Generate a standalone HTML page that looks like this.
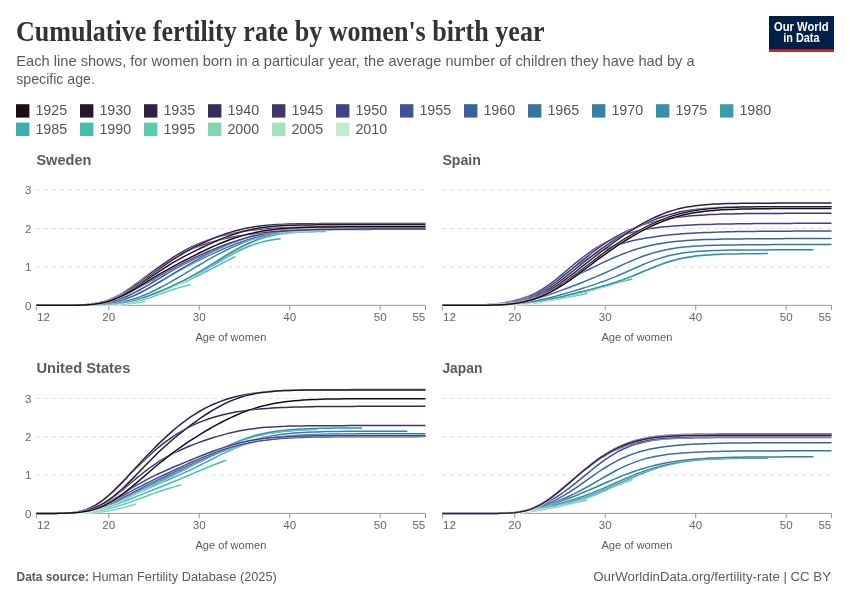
<!DOCTYPE html>
<html lang="en"><head><meta charset="utf-8"><title>Cumulative fertility rate by women's birth year</title>
<style>
html,body{margin:0;padding:0;background:#fff}
svg{display:block}
text{font-family:"Liberation Sans",sans-serif;fill:#5b5b5b}
.title{font-family:"Liberation Serif",serif;font-weight:bold;font-size:28.5px;fill:#333}
.sub{font-size:14.2px;fill:#5b5b5b}
.lg{font-size:14px;fill:#555}
.pt{font-size:15.4px;font-weight:bold;fill:#5b5b5b}
.tk{font-size:11.6px;fill:#666}
.al{font-size:11.6px;fill:#5b5b5b}
.ft{font-size:12.9px;fill:#5b5b5b}
.logo{font-size:12.3px;font-weight:bold;fill:#fff}
.gl{stroke:#ddd;stroke-width:1;stroke-dasharray:4 4}
.ax{stroke:#999;stroke-width:1}
.ln{fill:none;stroke-width:1.5;stroke-linejoin:round;stroke-linecap:butt}
.ho{fill:none;stroke:#fff;stroke-width:2.5;stroke-opacity:.55;stroke-linejoin:round}
</style></head><body>
<svg width="850" height="600" viewBox="0 0 850 600">
<rect width="850" height="600" fill="#fff"/>
<text x="16" y="40.6" class="title" textLength="528.5" lengthAdjust="spacingAndGlyphs">Cumulative fertility rate by women's birth year</text>
<text x="16.3" y="66.3" class="sub" textLength="678.3" lengthAdjust="spacingAndGlyphs">Each line shows, for women born in a particular year, the average number of children they have had by a</text>
<text x="16.3" y="83.7" class="sub" textLength="78.6" lengthAdjust="spacingAndGlyphs">specific age.</text>
<rect x="769" y="16" width="65" height="36" fill="#002147"/>
<rect x="769" y="49.3" width="65" height="2.7" fill="#ce261e"/>
<text x="801.3" y="30.5" class="logo" text-anchor="middle" textLength="54.6" lengthAdjust="spacingAndGlyphs">Our World</text>
<text x="801.4" y="42.4" class="logo" text-anchor="middle" textLength="36.3" lengthAdjust="spacingAndGlyphs">in Data</text>

<rect x="16" y="104.2" width="13.4" height="13.4" fill="#190e18"/><text x="35.4" y="115.4" class="lg" textLength="31.8" lengthAdjust="spacingAndGlyphs">1925</text>
<rect x="80" y="104.2" width="13.4" height="13.4" fill="#26172b"/><text x="99.4" y="115.4" class="lg" textLength="31.8" lengthAdjust="spacingAndGlyphs">1930</text>
<rect x="144" y="104.2" width="13.4" height="13.4" fill="#312142"/><text x="163.4" y="115.4" class="lg" textLength="31.8" lengthAdjust="spacingAndGlyphs">1935</text>
<rect x="208" y="104.2" width="13.4" height="13.4" fill="#3a2c58"/><text x="227.4" y="115.4" class="lg" textLength="31.8" lengthAdjust="spacingAndGlyphs">1940</text>
<rect x="272" y="104.2" width="13.4" height="13.4" fill="#3f3770"/><text x="291.4" y="115.4" class="lg" textLength="31.8" lengthAdjust="spacingAndGlyphs">1945</text>
<rect x="336" y="104.2" width="13.4" height="13.4" fill="#414387"/><text x="355.4" y="115.4" class="lg" textLength="31.8" lengthAdjust="spacingAndGlyphs">1950</text>
<rect x="400" y="104.2" width="13.4" height="13.4" fill="#3c5397"/><text x="419.4" y="115.4" class="lg" textLength="31.8" lengthAdjust="spacingAndGlyphs">1955</text>
<rect x="464" y="104.2" width="13.4" height="13.4" fill="#38639d"/><text x="483.4" y="115.4" class="lg" textLength="31.8" lengthAdjust="spacingAndGlyphs">1960</text>
<rect x="528" y="104.2" width="13.4" height="13.4" fill="#3573a1"/><text x="547.4" y="115.4" class="lg" textLength="31.8" lengthAdjust="spacingAndGlyphs">1965</text>
<rect x="592" y="104.2" width="13.4" height="13.4" fill="#3482a4"/><text x="611.4" y="115.4" class="lg" textLength="31.8" lengthAdjust="spacingAndGlyphs">1970</text>
<rect x="656" y="104.2" width="13.4" height="13.4" fill="#3491a8"/><text x="675.4" y="115.4" class="lg" textLength="31.8" lengthAdjust="spacingAndGlyphs">1975</text>
<rect x="720" y="104.2" width="13.4" height="13.4" fill="#35a0ab"/><text x="739.4" y="115.4" class="lg" textLength="31.8" lengthAdjust="spacingAndGlyphs">1980</text>
<rect x="16" y="122.6" width="13.4" height="13.4" fill="#3bafad"/><text x="35.4" y="133.8" class="lg" textLength="31.8" lengthAdjust="spacingAndGlyphs">1985</text>
<rect x="80" y="122.6" width="13.4" height="13.4" fill="#46bead"/><text x="99.4" y="133.8" class="lg" textLength="31.8" lengthAdjust="spacingAndGlyphs">1990</text>
<rect x="144" y="122.6" width="13.4" height="13.4" fill="#5bcdad"/><text x="163.4" y="133.8" class="lg" textLength="31.8" lengthAdjust="spacingAndGlyphs">1995</text>
<rect x="208" y="122.6" width="13.4" height="13.4" fill="#7fd7af"/><text x="227.4" y="133.8" class="lg" textLength="31.8" lengthAdjust="spacingAndGlyphs">2000</text>
<rect x="272" y="122.6" width="13.4" height="13.4" fill="#a6e1bc"/><text x="291.4" y="133.8" class="lg" textLength="31.8" lengthAdjust="spacingAndGlyphs">2005</text>
<rect x="336" y="122.6" width="13.4" height="13.4" fill="#c4eacf"/><text x="355.4" y="133.8" class="lg" textLength="31.8" lengthAdjust="spacingAndGlyphs">2010</text>
<text x="36.4" y="164.7" class="pt" textLength="55" lengthAdjust="spacingAndGlyphs">Sweden</text>
<line x1="36.4" x2="425.5" y1="266.9" y2="266.9" class="gl"/>
<line x1="36.4" x2="425.5" y1="228.6" y2="228.6" class="gl"/>
<line x1="36.4" x2="425.5" y1="190.2" y2="190.2" class="gl"/>
<text x="31.4" y="309.5" class="tk" text-anchor="end">0</text>
<text x="31.4" y="271.1" class="tk" text-anchor="end">1</text>
<text x="31.4" y="232.8" class="tk" text-anchor="end">2</text>
<text x="31.4" y="194.4" class="tk" text-anchor="end">3</text>
<line x1="36.4" x2="425.5" y1="305.3" y2="305.3" class="ax"/>
<line x1="36.4" x2="36.4" y1="305.3" y2="310.3" class="ax"/>
<text x="37.0" y="321.3" class="tk">12</text>
<line x1="108.8" x2="108.8" y1="305.3" y2="310.3" class="ax"/>
<text x="108.8" y="321.3" class="tk" text-anchor="middle">20</text>
<line x1="199.3" x2="199.3" y1="305.3" y2="310.3" class="ax"/>
<text x="199.3" y="321.3" class="tk" text-anchor="middle">30</text>
<line x1="289.7" x2="289.7" y1="305.3" y2="310.3" class="ax"/>
<text x="289.7" y="321.3" class="tk" text-anchor="middle">40</text>
<line x1="380.2" x2="380.2" y1="305.3" y2="310.3" class="ax"/>
<text x="380.2" y="321.3" class="tk" text-anchor="middle">50</text>
<line x1="425.5" x2="425.5" y1="305.3" y2="310.3" class="ax"/>
<text x="425.3" y="321.3" class="tk" text-anchor="end">55</text>
<polyline points="36.4,305.3 40.9,305.3 45.4,305.3 50.0,305.3 54.5,305.3" class="ho"/>
<polyline points="36.4,305.3 40.9,305.3 45.4,305.3 50.0,305.3 54.5,305.3" class="ln" stroke="#c4eacf"/>
<polyline points="36.4,305.3 40.9,305.3 45.4,305.3 50.0,305.3 54.5,305.3 59.0,305.3 63.5,305.3 68.1,305.3 72.6,305.3 77.1,305.3 81.6,305.3 86.2,305.3 90.7,305.2 95.2,305.2 99.7,305.1" class="ho"/>
<polyline points="36.4,305.3 40.9,305.3 45.4,305.3 50.0,305.3 54.5,305.3 59.0,305.3 63.5,305.3 68.1,305.3 72.6,305.3 77.1,305.3 81.6,305.3 86.2,305.3 90.7,305.2 95.2,305.2 99.7,305.1" class="ln" stroke="#a6e1bc"/>
<polyline points="36.4,305.3 40.9,305.3 45.4,305.3 50.0,305.3 54.5,305.3 59.0,305.3 63.5,305.3 68.1,305.3 72.6,305.3 77.1,305.3 81.6,305.3 86.2,305.3 90.7,305.3 95.2,305.2 99.7,305.2 104.3,305.1 108.8,305.0 113.3,304.8 117.8,304.6 122.4,304.4 126.9,304.0 131.4,303.6 135.9,303.0 140.5,302.3 145.0,301.5" class="ho"/>
<polyline points="36.4,305.3 40.9,305.3 45.4,305.3 50.0,305.3 54.5,305.3 59.0,305.3 63.5,305.3 68.1,305.3 72.6,305.3 77.1,305.3 81.6,305.3 86.2,305.3 90.7,305.3 95.2,305.2 99.7,305.2 104.3,305.1 108.8,305.0 113.3,304.8 117.8,304.6 122.4,304.4 126.9,304.0 131.4,303.6 135.9,303.0 140.5,302.3 145.0,301.5" class="ln" stroke="#7fd7af"/>
<polyline points="36.4,305.3 40.9,305.3 45.4,305.3 50.0,305.3 54.5,305.3 59.0,305.3 63.5,305.3 68.1,305.3 72.6,305.3 77.1,305.3 81.6,305.3 86.2,305.3 90.7,305.3 95.2,305.3 99.7,305.2 104.3,305.1 108.8,305.0 113.3,304.8 117.8,304.4 122.4,304.0 126.9,303.4 131.4,302.6 135.9,301.6 140.5,300.5 145.0,299.2 149.5,297.7 154.0,296.2 158.5,294.6 163.1,293.0 167.6,291.4 172.1,289.8 176.6,288.4 181.2,287.1 185.7,285.9 190.2,284.8" class="ho"/>
<polyline points="36.4,305.3 40.9,305.3 45.4,305.3 50.0,305.3 54.5,305.3 59.0,305.3 63.5,305.3 68.1,305.3 72.6,305.3 77.1,305.3 81.6,305.3 86.2,305.3 90.7,305.3 95.2,305.3 99.7,305.2 104.3,305.1 108.8,305.0 113.3,304.8 117.8,304.4 122.4,304.0 126.9,303.4 131.4,302.6 135.9,301.6 140.5,300.5 145.0,299.2 149.5,297.7 154.0,296.2 158.5,294.6 163.1,293.0 167.6,291.4 172.1,289.8 176.6,288.4 181.2,287.1 185.7,285.9 190.2,284.8" class="ln" stroke="#5bcdad"/>
<polyline points="36.4,305.3 40.9,305.3 45.4,305.3 50.0,305.3 54.5,305.3 59.0,305.3 63.5,305.3 68.1,305.3 72.6,305.3 77.1,305.3 81.6,305.3 86.2,305.3 90.7,305.2 95.2,305.1 99.7,305.0 104.3,304.8 108.8,304.6 113.3,304.2 117.8,303.7 122.4,303.1 126.9,302.3 131.4,301.3 135.9,300.2 140.5,298.9 145.0,297.5 149.5,295.9 154.0,294.2 158.5,292.5 163.1,290.7 167.6,288.8 172.1,286.9 176.6,285.0 181.2,283.1 185.7,281.2 190.2,279.2 194.7,277.1 199.3,275.0 203.8,272.8 208.3,270.5 212.8,268.2 217.4,265.8 221.9,263.4 226.4,261.1 230.9,258.7 235.5,256.6" class="ho"/>
<polyline points="36.4,305.3 40.9,305.3 45.4,305.3 50.0,305.3 54.5,305.3 59.0,305.3 63.5,305.3 68.1,305.3 72.6,305.3 77.1,305.3 81.6,305.3 86.2,305.3 90.7,305.2 95.2,305.1 99.7,305.0 104.3,304.8 108.8,304.6 113.3,304.2 117.8,303.7 122.4,303.1 126.9,302.3 131.4,301.3 135.9,300.2 140.5,298.9 145.0,297.5 149.5,295.9 154.0,294.2 158.5,292.5 163.1,290.7 167.6,288.8 172.1,286.9 176.6,285.0 181.2,283.1 185.7,281.2 190.2,279.2 194.7,277.1 199.3,275.0 203.8,272.8 208.3,270.5 212.8,268.2 217.4,265.8 221.9,263.4 226.4,261.1 230.9,258.7 235.5,256.6" class="ln" stroke="#46bead"/>
<polyline points="36.4,305.3 40.9,305.3 45.4,305.3 50.0,305.3 54.5,305.3 59.0,305.3 63.5,305.3 68.1,305.3 72.6,305.3 77.1,305.3 81.6,305.3 86.2,305.2 90.7,305.2 95.2,305.1 99.7,305.0 104.3,304.7 108.8,304.4 113.3,304.0 117.8,303.5 122.4,302.8 126.9,301.9 131.4,300.9 135.9,299.7 140.5,298.3 145.0,296.8 149.5,295.2 154.0,293.5 158.5,291.7 163.1,289.8 167.6,287.9 172.1,285.9 176.6,284.0 181.2,281.9 185.7,279.9 190.2,277.7 194.7,275.5 199.3,273.2 203.8,270.8 208.3,268.2 212.8,265.6 217.4,263.0 221.9,260.3 226.4,257.6 230.9,255.1 235.5,252.6 240.0,250.3 244.5,248.2 249.0,246.3 253.6,244.6 258.1,243.1 262.6,241.9 267.1,240.8 271.6,240.0 276.2,239.3 280.7,238.7" class="ho"/>
<polyline points="36.4,305.3 40.9,305.3 45.4,305.3 50.0,305.3 54.5,305.3 59.0,305.3 63.5,305.3 68.1,305.3 72.6,305.3 77.1,305.3 81.6,305.3 86.2,305.2 90.7,305.2 95.2,305.1 99.7,305.0 104.3,304.7 108.8,304.4 113.3,304.0 117.8,303.5 122.4,302.8 126.9,301.9 131.4,300.9 135.9,299.7 140.5,298.3 145.0,296.8 149.5,295.2 154.0,293.5 158.5,291.7 163.1,289.8 167.6,287.9 172.1,285.9 176.6,284.0 181.2,281.9 185.7,279.9 190.2,277.7 194.7,275.5 199.3,273.2 203.8,270.8 208.3,268.2 212.8,265.6 217.4,263.0 221.9,260.3 226.4,257.6 230.9,255.1 235.5,252.6 240.0,250.3 244.5,248.2 249.0,246.3 253.6,244.6 258.1,243.1 262.6,241.9 267.1,240.8 271.6,240.0 276.2,239.3 280.7,238.7" class="ln" stroke="#3bafad"/>
<polyline points="36.4,305.3 40.9,305.3 45.4,305.3 50.0,305.3 54.5,305.3 59.0,305.3 63.5,305.3 68.1,305.3 72.6,305.3 77.1,305.3 81.6,305.3 86.2,305.2 90.7,305.2 95.2,305.1 99.7,304.9 104.3,304.7 108.8,304.4 113.3,304.0 117.8,303.4 122.4,302.8 126.9,302.0 131.4,301.0 135.9,299.9 140.5,298.6 145.0,297.1 149.5,295.6 154.0,293.8 158.5,292.0 163.1,290.1 167.6,288.1 172.1,286.0 176.6,283.9 181.2,281.8 185.7,279.6 190.2,277.3 194.7,274.9 199.3,272.5 203.8,270.0 208.3,267.4 212.8,264.8 217.4,262.0 221.9,259.2 226.4,256.4 230.9,253.6 235.5,250.9 240.0,248.4 244.5,245.9 249.0,243.7 253.6,241.7 258.1,239.9 262.6,238.3 267.1,236.9 271.6,235.8 276.2,234.8 280.7,234.0 285.2,233.4 289.7,232.9 294.3,232.5 298.8,232.2 303.3,232.0 307.8,231.8 312.4,231.7 316.9,231.6 321.4,231.5 325.9,231.4" class="ho"/>
<polyline points="36.4,305.3 40.9,305.3 45.4,305.3 50.0,305.3 54.5,305.3 59.0,305.3 63.5,305.3 68.1,305.3 72.6,305.3 77.1,305.3 81.6,305.3 86.2,305.2 90.7,305.2 95.2,305.1 99.7,304.9 104.3,304.7 108.8,304.4 113.3,304.0 117.8,303.4 122.4,302.8 126.9,302.0 131.4,301.0 135.9,299.9 140.5,298.6 145.0,297.1 149.5,295.6 154.0,293.8 158.5,292.0 163.1,290.1 167.6,288.1 172.1,286.0 176.6,283.9 181.2,281.8 185.7,279.6 190.2,277.3 194.7,274.9 199.3,272.5 203.8,270.0 208.3,267.4 212.8,264.8 217.4,262.0 221.9,259.2 226.4,256.4 230.9,253.6 235.5,250.9 240.0,248.4 244.5,245.9 249.0,243.7 253.6,241.7 258.1,239.9 262.6,238.3 267.1,236.9 271.6,235.8 276.2,234.8 280.7,234.0 285.2,233.4 289.7,232.9 294.3,232.5 298.8,232.2 303.3,232.0 307.8,231.8 312.4,231.7 316.9,231.6 321.4,231.5 325.9,231.4" class="ln" stroke="#35a0ab"/>
<polyline points="36.4,305.3 40.9,305.3 45.4,305.3 50.0,305.3 54.5,305.3 59.0,305.3 63.5,305.3 68.1,305.3 72.6,305.3 77.1,305.3 81.6,305.2 86.2,305.2 90.7,305.1 95.2,304.9 99.7,304.8 104.3,304.5 108.8,304.2 113.3,303.7 117.8,303.2 122.4,302.5 126.9,301.7 131.4,300.8 135.9,299.7 140.5,298.4 145.0,297.0 149.5,295.5 154.0,293.8 158.5,292.0 163.1,290.1 167.6,288.2 172.1,286.1 176.6,283.9 181.2,281.6 185.7,279.3 190.2,276.9 194.7,274.4 199.3,271.8 203.8,269.2 208.3,266.4 212.8,263.7 217.4,260.8 221.9,258.0 226.4,255.2 230.9,252.5 235.5,249.9 240.0,247.4 244.5,245.1 249.0,243.0 253.6,241.1 258.1,239.3 262.6,237.8 267.1,236.5 271.6,235.4 276.2,234.4 280.7,233.6 285.2,232.9 289.7,232.3 294.3,231.8 298.8,231.4 303.3,231.1 307.8,230.9 312.4,230.6 316.9,230.5 321.4,230.3 325.9,230.2 330.5,230.1 335.0,230.0 339.5,229.9 344.0,229.9 348.6,229.8 353.1,229.8 357.6,229.7 362.1,229.7 366.7,229.7 371.2,229.7" class="ho"/>
<polyline points="36.4,305.3 40.9,305.3 45.4,305.3 50.0,305.3 54.5,305.3 59.0,305.3 63.5,305.3 68.1,305.3 72.6,305.3 77.1,305.3 81.6,305.2 86.2,305.2 90.7,305.1 95.2,304.9 99.7,304.8 104.3,304.5 108.8,304.2 113.3,303.7 117.8,303.2 122.4,302.5 126.9,301.7 131.4,300.8 135.9,299.7 140.5,298.4 145.0,297.0 149.5,295.5 154.0,293.8 158.5,292.0 163.1,290.1 167.6,288.2 172.1,286.1 176.6,283.9 181.2,281.6 185.7,279.3 190.2,276.9 194.7,274.4 199.3,271.8 203.8,269.2 208.3,266.4 212.8,263.7 217.4,260.8 221.9,258.0 226.4,255.2 230.9,252.5 235.5,249.9 240.0,247.4 244.5,245.1 249.0,243.0 253.6,241.1 258.1,239.3 262.6,237.8 267.1,236.5 271.6,235.4 276.2,234.4 280.7,233.6 285.2,232.9 289.7,232.3 294.3,231.8 298.8,231.4 303.3,231.1 307.8,230.9 312.4,230.6 316.9,230.5 321.4,230.3 325.9,230.2 330.5,230.1 335.0,230.0 339.5,229.9 344.0,229.9 348.6,229.8 353.1,229.8 357.6,229.7 362.1,229.7 366.7,229.7 371.2,229.7" class="ln" stroke="#3491a8"/>
<polyline points="36.4,305.3 40.9,305.3 45.4,305.3 50.0,305.3 54.5,305.3 59.0,305.3 63.5,305.3 68.1,305.3 72.6,305.3 77.1,305.2 81.6,305.2 86.2,305.1 90.7,305.0 95.2,304.9 99.7,304.6 104.3,304.3 108.8,303.9 113.3,303.3 117.8,302.6 122.4,301.8 126.9,300.8 131.4,299.6 135.9,298.2 140.5,296.6 145.0,294.8 149.5,292.9 154.0,290.8 158.5,288.5 163.1,286.2 167.6,283.7 172.1,281.1 176.6,278.5 181.2,275.8 185.7,273.1 190.2,270.4 194.7,267.7 199.3,265.0 203.8,262.3 208.3,259.7 212.8,257.2 217.4,254.7 221.9,252.3 226.4,250.0 230.9,247.8 235.5,245.7 240.0,243.8 244.5,242.0 249.0,240.3 253.6,238.8 258.1,237.5 262.6,236.3 267.1,235.3 271.6,234.3 276.2,233.5 280.7,232.8 285.2,232.2 289.7,231.7 294.3,231.3 298.8,230.9 303.3,230.6 307.8,230.3 312.4,230.1 316.9,229.9 321.4,229.8 325.9,229.6 330.5,229.5 335.0,229.4 339.5,229.3 344.0,229.3 348.6,229.2 353.1,229.2 357.6,229.1 362.1,229.1 366.7,229.1 371.2,229.1 375.7,229.0 380.2,229.0 384.7,229.0 389.3,229.0 393.8,229.0 398.3,229.0 402.8,229.0 407.4,229.0 411.9,229.0 416.4,229.0" class="ho"/>
<polyline points="36.4,305.3 40.9,305.3 45.4,305.3 50.0,305.3 54.5,305.3 59.0,305.3 63.5,305.3 68.1,305.3 72.6,305.3 77.1,305.2 81.6,305.2 86.2,305.1 90.7,305.0 95.2,304.9 99.7,304.6 104.3,304.3 108.8,303.9 113.3,303.3 117.8,302.6 122.4,301.8 126.9,300.8 131.4,299.6 135.9,298.2 140.5,296.6 145.0,294.8 149.5,292.9 154.0,290.8 158.5,288.5 163.1,286.2 167.6,283.7 172.1,281.1 176.6,278.5 181.2,275.8 185.7,273.1 190.2,270.4 194.7,267.7 199.3,265.0 203.8,262.3 208.3,259.7 212.8,257.2 217.4,254.7 221.9,252.3 226.4,250.0 230.9,247.8 235.5,245.7 240.0,243.8 244.5,242.0 249.0,240.3 253.6,238.8 258.1,237.5 262.6,236.3 267.1,235.3 271.6,234.3 276.2,233.5 280.7,232.8 285.2,232.2 289.7,231.7 294.3,231.3 298.8,230.9 303.3,230.6 307.8,230.3 312.4,230.1 316.9,229.9 321.4,229.8 325.9,229.6 330.5,229.5 335.0,229.4 339.5,229.3 344.0,229.3 348.6,229.2 353.1,229.2 357.6,229.1 362.1,229.1 366.7,229.1 371.2,229.1 375.7,229.0 380.2,229.0 384.7,229.0 389.3,229.0 393.8,229.0 398.3,229.0 402.8,229.0 407.4,229.0 411.9,229.0 416.4,229.0" class="ln" stroke="#3482a4"/>
<polyline points="36.4,305.3 40.9,305.3 45.4,305.3 50.0,305.3 54.5,305.3 59.0,305.3 63.5,305.3 68.1,305.3 72.6,305.3 77.1,305.3 81.6,305.2 86.2,305.1 90.7,305.0 95.2,304.8 99.7,304.4 104.3,304.0 108.8,303.3 113.3,302.5 117.8,301.5 122.4,300.2 126.9,298.7 131.4,297.0 135.9,295.0 140.5,292.8 145.0,290.5 149.5,288.0 154.0,285.4 158.5,282.8 163.1,280.1 167.6,277.4 172.1,274.8 176.6,272.2 181.2,269.6 185.7,267.2 190.2,264.8 194.7,262.4 199.3,260.1 203.8,257.9 208.3,255.7 212.8,253.6 217.4,251.5 221.9,249.5 226.4,247.6 230.9,245.7 235.5,243.9 240.0,242.2 244.5,240.6 249.0,239.1 253.6,237.8 258.1,236.5 262.6,235.4 267.1,234.4 271.6,233.5 276.2,232.8 280.7,232.1 285.2,231.5 289.7,231.1 294.3,230.7 298.8,230.4 303.3,230.1 307.8,229.9 312.4,229.7 316.9,229.6 321.4,229.5 325.9,229.4 330.5,229.3 335.0,229.3 339.5,229.2 344.0,229.2 348.6,229.2 353.1,229.2 357.6,229.1 362.1,229.1 366.7,229.1 371.2,229.1 375.7,229.1 380.2,229.1 384.7,229.1 389.3,229.1 393.8,229.1 398.3,229.1 402.8,229.1 407.4,229.1 411.9,229.1 416.4,229.1 420.9,229.1 425.5,229.1" class="ho"/>
<polyline points="36.4,305.3 40.9,305.3 45.4,305.3 50.0,305.3 54.5,305.3 59.0,305.3 63.5,305.3 68.1,305.3 72.6,305.3 77.1,305.3 81.6,305.2 86.2,305.1 90.7,305.0 95.2,304.8 99.7,304.4 104.3,304.0 108.8,303.3 113.3,302.5 117.8,301.5 122.4,300.2 126.9,298.7 131.4,297.0 135.9,295.0 140.5,292.8 145.0,290.5 149.5,288.0 154.0,285.4 158.5,282.8 163.1,280.1 167.6,277.4 172.1,274.8 176.6,272.2 181.2,269.6 185.7,267.2 190.2,264.8 194.7,262.4 199.3,260.1 203.8,257.9 208.3,255.7 212.8,253.6 217.4,251.5 221.9,249.5 226.4,247.6 230.9,245.7 235.5,243.9 240.0,242.2 244.5,240.6 249.0,239.1 253.6,237.8 258.1,236.5 262.6,235.4 267.1,234.4 271.6,233.5 276.2,232.8 280.7,232.1 285.2,231.5 289.7,231.1 294.3,230.7 298.8,230.4 303.3,230.1 307.8,229.9 312.4,229.7 316.9,229.6 321.4,229.5 325.9,229.4 330.5,229.3 335.0,229.3 339.5,229.2 344.0,229.2 348.6,229.2 353.1,229.2 357.6,229.1 362.1,229.1 366.7,229.1 371.2,229.1 375.7,229.1 380.2,229.1 384.7,229.1 389.3,229.1 393.8,229.1 398.3,229.1 402.8,229.1 407.4,229.1 411.9,229.1 416.4,229.1 420.9,229.1 425.5,229.1" class="ln" stroke="#3573a1"/>
<polyline points="36.4,305.3 40.9,305.3 45.4,305.3 50.0,305.3 54.5,305.3 59.0,305.3 63.5,305.3 68.1,305.3 72.6,305.3 77.1,305.2 81.6,305.2 86.2,305.1 90.7,304.9 95.2,304.6 99.7,304.3 104.3,303.8 108.8,303.1 113.3,302.2 117.8,301.2 122.4,299.9 126.9,298.3 131.4,296.6 135.9,294.6 140.5,292.5 145.0,290.2 149.5,287.7 154.0,285.1 158.5,282.5 163.1,279.8 167.6,277.1 172.1,274.4 176.6,271.6 181.2,269.0 185.7,266.3 190.2,263.7 194.7,261.2 199.3,258.7 203.8,256.2 208.3,253.9 212.8,251.6 217.4,249.4 221.9,247.3 226.4,245.3 230.9,243.3 235.5,241.5 240.0,239.8 244.5,238.3 249.0,236.8 253.6,235.5 258.1,234.3 262.6,233.3 267.1,232.3 271.6,231.5 276.2,230.8 280.7,230.2 285.2,229.6 289.7,229.2 294.3,228.8 298.8,228.4 303.3,228.2 307.8,228.0 312.4,227.8 316.9,227.6 321.4,227.5 325.9,227.4 330.5,227.3 335.0,227.3 339.5,227.2 344.0,227.2 348.6,227.2 353.1,227.1 357.6,227.1 362.1,227.1 366.7,227.1 371.2,227.1 375.7,227.1 380.2,227.1 384.7,227.1 389.3,227.1 393.8,227.1 398.3,227.1 402.8,227.1 407.4,227.1 411.9,227.1 416.4,227.1 420.9,227.1 425.5,227.1" class="ho"/>
<polyline points="36.4,305.3 40.9,305.3 45.4,305.3 50.0,305.3 54.5,305.3 59.0,305.3 63.5,305.3 68.1,305.3 72.6,305.3 77.1,305.2 81.6,305.2 86.2,305.1 90.7,304.9 95.2,304.6 99.7,304.3 104.3,303.8 108.8,303.1 113.3,302.2 117.8,301.2 122.4,299.9 126.9,298.3 131.4,296.6 135.9,294.6 140.5,292.5 145.0,290.2 149.5,287.7 154.0,285.1 158.5,282.5 163.1,279.8 167.6,277.1 172.1,274.4 176.6,271.6 181.2,269.0 185.7,266.3 190.2,263.7 194.7,261.2 199.3,258.7 203.8,256.2 208.3,253.9 212.8,251.6 217.4,249.4 221.9,247.3 226.4,245.3 230.9,243.3 235.5,241.5 240.0,239.8 244.5,238.3 249.0,236.8 253.6,235.5 258.1,234.3 262.6,233.3 267.1,232.3 271.6,231.5 276.2,230.8 280.7,230.2 285.2,229.6 289.7,229.2 294.3,228.8 298.8,228.4 303.3,228.2 307.8,228.0 312.4,227.8 316.9,227.6 321.4,227.5 325.9,227.4 330.5,227.3 335.0,227.3 339.5,227.2 344.0,227.2 348.6,227.2 353.1,227.1 357.6,227.1 362.1,227.1 366.7,227.1 371.2,227.1 375.7,227.1 380.2,227.1 384.7,227.1 389.3,227.1 393.8,227.1 398.3,227.1 402.8,227.1 407.4,227.1 411.9,227.1 416.4,227.1 420.9,227.1 425.5,227.1" class="ln" stroke="#38639d"/>
<polyline points="36.4,305.3 40.9,305.3 45.4,305.3 50.0,305.3 54.5,305.3 59.0,305.3 63.5,305.3 68.1,305.3 72.6,305.2 77.1,305.2 81.6,305.1 86.2,304.9 90.7,304.6 95.2,304.3 99.7,303.7 104.3,303.0 108.8,302.1 113.3,301.0 117.8,299.6 122.4,298.0 126.9,296.2 131.4,294.2 135.9,291.9 140.5,289.5 145.0,286.9 149.5,284.3 154.0,281.5 158.5,278.8 163.1,276.0 167.6,273.3 172.1,270.7 176.6,268.2 181.2,265.7 185.7,263.4 190.2,261.1 194.7,258.9 199.3,256.8 203.8,254.8 208.3,252.8 212.8,250.8 217.4,248.9 221.9,247.0 226.4,245.2 230.9,243.4 235.5,241.7 240.0,240.0 244.5,238.5 249.0,237.0 253.6,235.7 258.1,234.4 262.6,233.4 267.1,232.4 271.6,231.5 276.2,230.8 280.7,230.2 285.2,229.7 289.7,229.3 294.3,228.9 298.8,228.6 303.3,228.4 307.8,228.2 312.4,228.1 316.9,228.0 321.4,227.9 325.9,227.9 330.5,227.8 335.0,227.8 339.5,227.8 344.0,227.7 348.6,227.7 353.1,227.7 357.6,227.7 362.1,227.7 366.7,227.7 371.2,227.7 375.7,227.7 380.2,227.7 384.7,227.7 389.3,227.7 393.8,227.7 398.3,227.7 402.8,227.7 407.4,227.7 411.9,227.7 416.4,227.7 420.9,227.7 425.5,227.7" class="ho"/>
<polyline points="36.4,305.3 40.9,305.3 45.4,305.3 50.0,305.3 54.5,305.3 59.0,305.3 63.5,305.3 68.1,305.3 72.6,305.2 77.1,305.2 81.6,305.1 86.2,304.9 90.7,304.6 95.2,304.3 99.7,303.7 104.3,303.0 108.8,302.1 113.3,301.0 117.8,299.6 122.4,298.0 126.9,296.2 131.4,294.2 135.9,291.9 140.5,289.5 145.0,286.9 149.5,284.3 154.0,281.5 158.5,278.8 163.1,276.0 167.6,273.3 172.1,270.7 176.6,268.2 181.2,265.7 185.7,263.4 190.2,261.1 194.7,258.9 199.3,256.8 203.8,254.8 208.3,252.8 212.8,250.8 217.4,248.9 221.9,247.0 226.4,245.2 230.9,243.4 235.5,241.7 240.0,240.0 244.5,238.5 249.0,237.0 253.6,235.7 258.1,234.4 262.6,233.4 267.1,232.4 271.6,231.5 276.2,230.8 280.7,230.2 285.2,229.7 289.7,229.3 294.3,228.9 298.8,228.6 303.3,228.4 307.8,228.2 312.4,228.1 316.9,228.0 321.4,227.9 325.9,227.9 330.5,227.8 335.0,227.8 339.5,227.8 344.0,227.7 348.6,227.7 353.1,227.7 357.6,227.7 362.1,227.7 366.7,227.7 371.2,227.7 375.7,227.7 380.2,227.7 384.7,227.7 389.3,227.7 393.8,227.7 398.3,227.7 402.8,227.7 407.4,227.7 411.9,227.7 416.4,227.7 420.9,227.7 425.5,227.7" class="ln" stroke="#3c5397"/>
<polyline points="36.4,305.3 40.9,305.3 45.4,305.3 50.0,305.3 54.5,305.3 59.0,305.3 63.5,305.3 68.1,305.2 72.6,305.1 77.1,305.0 81.6,304.8 86.2,304.5 90.7,304.0 95.2,303.4 99.7,302.7 104.3,301.7 108.8,300.5 113.3,299.1 117.8,297.5 122.4,295.7 126.9,293.7 131.4,291.5 135.9,289.1 140.5,286.7 145.0,284.2 149.5,281.6 154.0,279.0 158.5,276.4 163.1,273.8 167.6,271.3 172.1,268.8 176.6,266.4 181.2,264.1 185.7,261.8 190.2,259.6 194.7,257.5 199.3,255.4 203.8,253.4 208.3,251.5 212.8,249.6 217.4,247.7 221.9,246.0 226.4,244.3 230.9,242.7 235.5,241.1 240.0,239.7 244.5,238.4 249.0,237.1 253.6,236.0 258.1,235.0 262.6,234.1 267.1,233.3 271.6,232.5 276.2,231.9 280.7,231.4 285.2,230.9 289.7,230.5 294.3,230.2 298.8,229.9 303.3,229.7 307.8,229.5 312.4,229.3 316.9,229.2 321.4,229.1 325.9,229.0 330.5,229.0 335.0,228.9 339.5,228.9 344.0,228.9 348.6,228.8 353.1,228.8 357.6,228.8 362.1,228.8 366.7,228.8 371.2,228.8 375.7,228.8 380.2,228.8 384.7,228.8 389.3,228.8 393.8,228.8 398.3,228.8 402.8,228.8 407.4,228.8 411.9,228.8 416.4,228.8 420.9,228.8 425.5,228.8" class="ho"/>
<polyline points="36.4,305.3 40.9,305.3 45.4,305.3 50.0,305.3 54.5,305.3 59.0,305.3 63.5,305.3 68.1,305.2 72.6,305.1 77.1,305.0 81.6,304.8 86.2,304.5 90.7,304.0 95.2,303.4 99.7,302.7 104.3,301.7 108.8,300.5 113.3,299.1 117.8,297.5 122.4,295.7 126.9,293.7 131.4,291.5 135.9,289.1 140.5,286.7 145.0,284.2 149.5,281.6 154.0,279.0 158.5,276.4 163.1,273.8 167.6,271.3 172.1,268.8 176.6,266.4 181.2,264.1 185.7,261.8 190.2,259.6 194.7,257.5 199.3,255.4 203.8,253.4 208.3,251.5 212.8,249.6 217.4,247.7 221.9,246.0 226.4,244.3 230.9,242.7 235.5,241.1 240.0,239.7 244.5,238.4 249.0,237.1 253.6,236.0 258.1,235.0 262.6,234.1 267.1,233.3 271.6,232.5 276.2,231.9 280.7,231.4 285.2,230.9 289.7,230.5 294.3,230.2 298.8,229.9 303.3,229.7 307.8,229.5 312.4,229.3 316.9,229.2 321.4,229.1 325.9,229.0 330.5,229.0 335.0,228.9 339.5,228.9 344.0,228.9 348.6,228.8 353.1,228.8 357.6,228.8 362.1,228.8 366.7,228.8 371.2,228.8 375.7,228.8 380.2,228.8 384.7,228.8 389.3,228.8 393.8,228.8 398.3,228.8 402.8,228.8 407.4,228.8 411.9,228.8 416.4,228.8 420.9,228.8 425.5,228.8" class="ln" stroke="#414387"/>
<polyline points="36.4,305.3 40.9,305.3 45.4,305.3 50.0,305.3 54.5,305.3 59.0,305.3 63.5,305.2 68.1,305.2 72.6,305.1 77.1,304.9 81.6,304.7 86.2,304.4 90.7,303.9 95.2,303.2 99.7,302.4 104.3,301.2 108.8,299.7 113.3,297.8 117.8,295.6 122.4,293.1 126.9,290.2 131.4,287.1 135.9,283.9 140.5,280.5 145.0,277.0 149.5,273.6 154.0,270.3 158.5,267.1 163.1,264.0 167.6,261.2 172.1,258.5 176.6,256.0 181.2,253.7 185.7,251.5 190.2,249.6 194.7,247.7 199.3,246.1 203.8,244.5 208.3,243.0 212.8,241.7 217.4,240.5 221.9,239.3 226.4,238.3 230.9,237.3 235.5,236.5 240.0,235.7 244.5,234.9 249.0,234.3 253.6,233.7 258.1,233.1 262.6,232.7 267.1,232.2 271.6,231.8 276.2,231.5 280.7,231.2 285.2,230.9 289.7,230.6 294.3,230.4 298.8,230.2 303.3,230.1 307.8,229.9 312.4,229.8 316.9,229.7 321.4,229.6 325.9,229.5 330.5,229.4 335.0,229.3 339.5,229.3 344.0,229.2 348.6,229.2 353.1,229.2 357.6,229.1 362.1,229.1 366.7,229.1 371.2,229.1 375.7,229.0 380.2,229.0 384.7,229.0 389.3,229.0 393.8,229.0 398.3,229.0 402.8,229.0 407.4,229.0 411.9,229.0 416.4,229.0 420.9,229.0 425.5,229.0" class="ho"/>
<polyline points="36.4,305.3 40.9,305.3 45.4,305.3 50.0,305.3 54.5,305.3 59.0,305.3 63.5,305.2 68.1,305.2 72.6,305.1 77.1,304.9 81.6,304.7 86.2,304.4 90.7,303.9 95.2,303.2 99.7,302.4 104.3,301.2 108.8,299.7 113.3,297.8 117.8,295.6 122.4,293.1 126.9,290.2 131.4,287.1 135.9,283.9 140.5,280.5 145.0,277.0 149.5,273.6 154.0,270.3 158.5,267.1 163.1,264.0 167.6,261.2 172.1,258.5 176.6,256.0 181.2,253.7 185.7,251.5 190.2,249.6 194.7,247.7 199.3,246.1 203.8,244.5 208.3,243.0 212.8,241.7 217.4,240.5 221.9,239.3 226.4,238.3 230.9,237.3 235.5,236.5 240.0,235.7 244.5,234.9 249.0,234.3 253.6,233.7 258.1,233.1 262.6,232.7 267.1,232.2 271.6,231.8 276.2,231.5 280.7,231.2 285.2,230.9 289.7,230.6 294.3,230.4 298.8,230.2 303.3,230.1 307.8,229.9 312.4,229.8 316.9,229.7 321.4,229.6 325.9,229.5 330.5,229.4 335.0,229.3 339.5,229.3 344.0,229.2 348.6,229.2 353.1,229.2 357.6,229.1 362.1,229.1 366.7,229.1 371.2,229.1 375.7,229.0 380.2,229.0 384.7,229.0 389.3,229.0 393.8,229.0 398.3,229.0 402.8,229.0 407.4,229.0 411.9,229.0 416.4,229.0 420.9,229.0 425.5,229.0" class="ln" stroke="#3f3770"/>
<polyline points="36.4,305.3 40.9,305.3 45.4,305.3 50.0,305.3 54.5,305.3 59.0,305.3 63.5,305.3 68.1,305.2 72.6,305.1 77.1,305.0 81.6,304.8 86.2,304.5 90.7,304.1 95.2,303.4 99.7,302.6 104.3,301.5 108.8,300.1 113.3,298.4 117.8,296.3 122.4,293.9 126.9,291.1 131.4,288.1 135.9,284.9 140.5,281.5 145.0,278.0 149.5,274.5 154.0,271.0 158.5,267.6 163.1,264.3 167.6,261.1 172.1,258.0 176.6,255.2 181.2,252.5 185.7,250.0 190.2,247.7 194.7,245.5 199.3,243.5 203.8,241.7 208.3,240.0 212.8,238.5 217.4,237.1 221.9,235.8 226.4,234.7 230.9,233.7 235.5,232.8 240.0,231.9 244.5,231.2 249.0,230.6 253.6,230.0 258.1,229.5 262.6,229.1 267.1,228.7 271.6,228.3 276.2,228.0 280.7,227.8 285.2,227.6 289.7,227.4 294.3,227.2 298.8,227.1 303.3,227.0 307.8,226.9 312.4,226.8 316.9,226.7 321.4,226.7 325.9,226.6 330.5,226.6 335.0,226.5 339.5,226.5 344.0,226.5 348.6,226.5 353.1,226.5 357.6,226.4 362.1,226.4 366.7,226.4 371.2,226.4 375.7,226.4 380.2,226.4 384.7,226.4 389.3,226.4 393.8,226.4 398.3,226.4 402.8,226.4 407.4,226.4 411.9,226.4 416.4,226.4 420.9,226.4 425.5,226.4" class="ho"/>
<polyline points="36.4,305.3 40.9,305.3 45.4,305.3 50.0,305.3 54.5,305.3 59.0,305.3 63.5,305.3 68.1,305.2 72.6,305.1 77.1,305.0 81.6,304.8 86.2,304.5 90.7,304.1 95.2,303.4 99.7,302.6 104.3,301.5 108.8,300.1 113.3,298.4 117.8,296.3 122.4,293.9 126.9,291.1 131.4,288.1 135.9,284.9 140.5,281.5 145.0,278.0 149.5,274.5 154.0,271.0 158.5,267.6 163.1,264.3 167.6,261.1 172.1,258.0 176.6,255.2 181.2,252.5 185.7,250.0 190.2,247.7 194.7,245.5 199.3,243.5 203.8,241.7 208.3,240.0 212.8,238.5 217.4,237.1 221.9,235.8 226.4,234.7 230.9,233.7 235.5,232.8 240.0,231.9 244.5,231.2 249.0,230.6 253.6,230.0 258.1,229.5 262.6,229.1 267.1,228.7 271.6,228.3 276.2,228.0 280.7,227.8 285.2,227.6 289.7,227.4 294.3,227.2 298.8,227.1 303.3,227.0 307.8,226.9 312.4,226.8 316.9,226.7 321.4,226.7 325.9,226.6 330.5,226.6 335.0,226.5 339.5,226.5 344.0,226.5 348.6,226.5 353.1,226.5 357.6,226.4 362.1,226.4 366.7,226.4 371.2,226.4 375.7,226.4 380.2,226.4 384.7,226.4 389.3,226.4 393.8,226.4 398.3,226.4 402.8,226.4 407.4,226.4 411.9,226.4 416.4,226.4 420.9,226.4 425.5,226.4" class="ln" stroke="#3a2c58"/>
<polyline points="36.4,305.3 40.9,305.3 45.4,305.3 50.0,305.3 54.5,305.3 59.0,305.3 63.5,305.3 68.1,305.2 72.6,305.2 77.1,305.1 81.6,304.9 86.2,304.6 90.7,304.2 95.2,303.6 99.7,302.8 104.3,301.8 108.8,300.4 113.3,298.8 117.8,296.8 122.4,294.6 126.9,292.0 131.4,289.2 135.9,286.2 140.5,283.0 145.0,279.8 149.5,276.4 154.0,273.0 158.5,269.7 163.1,266.4 167.6,263.2 172.1,260.2 176.6,257.3 181.2,254.5 185.7,251.8 190.2,249.3 194.7,246.9 199.3,244.7 203.8,242.5 208.3,240.5 212.8,238.6 217.4,236.8 221.9,235.1 226.4,233.5 230.9,232.1 235.5,230.8 240.0,229.7 244.5,228.6 249.0,227.7 253.6,227.0 258.1,226.3 262.6,225.8 267.1,225.3 271.6,224.9 276.2,224.6 280.7,224.4 285.2,224.2 289.7,224.0 294.3,223.9 298.8,223.8 303.3,223.8 307.8,223.7 312.4,223.7 316.9,223.7 321.4,223.6 325.9,223.6 330.5,223.6 335.0,223.6 339.5,223.6 344.0,223.6 348.6,223.6 353.1,223.6 357.6,223.6 362.1,223.6 366.7,223.6 371.2,223.6 375.7,223.6 380.2,223.6 384.7,223.6 389.3,223.6 393.8,223.6 398.3,223.6 402.8,223.6 407.4,223.6 411.9,223.6 416.4,223.6 420.9,223.6 425.5,223.6" class="ho"/>
<polyline points="36.4,305.3 40.9,305.3 45.4,305.3 50.0,305.3 54.5,305.3 59.0,305.3 63.5,305.3 68.1,305.2 72.6,305.2 77.1,305.1 81.6,304.9 86.2,304.6 90.7,304.2 95.2,303.6 99.7,302.8 104.3,301.8 108.8,300.4 113.3,298.8 117.8,296.8 122.4,294.6 126.9,292.0 131.4,289.2 135.9,286.2 140.5,283.0 145.0,279.8 149.5,276.4 154.0,273.0 158.5,269.7 163.1,266.4 167.6,263.2 172.1,260.2 176.6,257.3 181.2,254.5 185.7,251.8 190.2,249.3 194.7,246.9 199.3,244.7 203.8,242.5 208.3,240.5 212.8,238.6 217.4,236.8 221.9,235.1 226.4,233.5 230.9,232.1 235.5,230.8 240.0,229.7 244.5,228.6 249.0,227.7 253.6,227.0 258.1,226.3 262.6,225.8 267.1,225.3 271.6,224.9 276.2,224.6 280.7,224.4 285.2,224.2 289.7,224.0 294.3,223.9 298.8,223.8 303.3,223.8 307.8,223.7 312.4,223.7 316.9,223.7 321.4,223.6 325.9,223.6 330.5,223.6 335.0,223.6 339.5,223.6 344.0,223.6 348.6,223.6 353.1,223.6 357.6,223.6 362.1,223.6 366.7,223.6 371.2,223.6 375.7,223.6 380.2,223.6 384.7,223.6 389.3,223.6 393.8,223.6 398.3,223.6 402.8,223.6 407.4,223.6 411.9,223.6 416.4,223.6 420.9,223.6 425.5,223.6" class="ln" stroke="#312142"/>
<polyline points="36.4,305.3 40.9,305.3 45.4,305.3 50.0,305.3 54.5,305.3 59.0,305.3 63.5,305.3 68.1,305.3 72.6,305.2 77.1,305.1 81.6,305.0 86.2,304.8 90.7,304.4 95.2,303.9 99.7,303.1 104.3,302.1 108.8,300.8 113.3,299.3 117.8,297.4 122.4,295.2 126.9,292.7 131.4,290.1 135.9,287.2 140.5,284.2 145.0,281.1 149.5,277.9 154.0,274.8 158.5,271.8 163.1,268.8 167.6,266.0 172.1,263.2 176.6,260.6 181.2,258.1 185.7,255.7 190.2,253.3 194.7,251.1 199.3,248.8 203.8,246.7 208.3,244.6 212.8,242.5 217.4,240.5 221.9,238.6 226.4,236.9 230.9,235.2 235.5,233.7 240.0,232.3 244.5,231.0 249.0,229.9 253.6,229.0 258.1,228.2 262.6,227.5 267.1,226.9 271.6,226.4 276.2,226.0 280.7,225.7 285.2,225.5 289.7,225.3 294.3,225.2 298.8,225.0 303.3,225.0 307.8,224.9 312.4,224.9 316.9,224.8 321.4,224.8 325.9,224.8 330.5,224.8 335.0,224.8 339.5,224.8 344.0,224.8 348.6,224.7 353.1,224.7 357.6,224.7 362.1,224.7 366.7,224.7 371.2,224.7 375.7,224.7 380.2,224.7 384.7,224.7 389.3,224.7 393.8,224.7 398.3,224.7 402.8,224.7 407.4,224.7 411.9,224.7 416.4,224.7 420.9,224.7 425.5,224.7" class="ho"/>
<polyline points="36.4,305.3 40.9,305.3 45.4,305.3 50.0,305.3 54.5,305.3 59.0,305.3 63.5,305.3 68.1,305.3 72.6,305.2 77.1,305.1 81.6,305.0 86.2,304.8 90.7,304.4 95.2,303.9 99.7,303.1 104.3,302.1 108.8,300.8 113.3,299.3 117.8,297.4 122.4,295.2 126.9,292.7 131.4,290.1 135.9,287.2 140.5,284.2 145.0,281.1 149.5,277.9 154.0,274.8 158.5,271.8 163.1,268.8 167.6,266.0 172.1,263.2 176.6,260.6 181.2,258.1 185.7,255.7 190.2,253.3 194.7,251.1 199.3,248.8 203.8,246.7 208.3,244.6 212.8,242.5 217.4,240.5 221.9,238.6 226.4,236.9 230.9,235.2 235.5,233.7 240.0,232.3 244.5,231.0 249.0,229.9 253.6,229.0 258.1,228.2 262.6,227.5 267.1,226.9 271.6,226.4 276.2,226.0 280.7,225.7 285.2,225.5 289.7,225.3 294.3,225.2 298.8,225.0 303.3,225.0 307.8,224.9 312.4,224.9 316.9,224.8 321.4,224.8 325.9,224.8 330.5,224.8 335.0,224.8 339.5,224.8 344.0,224.8 348.6,224.7 353.1,224.7 357.6,224.7 362.1,224.7 366.7,224.7 371.2,224.7 375.7,224.7 380.2,224.7 384.7,224.7 389.3,224.7 393.8,224.7 398.3,224.7 402.8,224.7 407.4,224.7 411.9,224.7 416.4,224.7 420.9,224.7 425.5,224.7" class="ln" stroke="#26172b"/>
<polyline points="36.4,305.3 40.9,305.3 45.4,305.3 50.0,305.3 54.5,305.3 59.0,305.3 63.5,305.3 68.1,305.3 72.6,305.3 77.1,305.2 81.6,305.1 86.2,304.9 90.7,304.6 95.2,304.1 99.7,303.4 104.3,302.5 108.8,301.3 113.3,299.7 117.8,297.9 122.4,295.8 126.9,293.5 131.4,291.0 135.9,288.4 140.5,285.6 145.0,282.9 149.5,280.1 154.0,277.4 158.5,274.7 163.1,272.1 167.6,269.6 172.1,267.1 176.6,264.6 181.2,262.2 185.7,259.9 190.2,257.6 194.7,255.3 199.3,253.0 203.8,250.8 208.3,248.7 212.8,246.6 217.4,244.6 221.9,242.7 226.4,241.0 230.9,239.3 235.5,237.8 240.0,236.3 244.5,235.1 249.0,233.9 253.6,232.9 258.1,231.9 262.6,231.1 267.1,230.4 271.6,229.8 276.2,229.3 280.7,228.8 285.2,228.5 289.7,228.1 294.3,227.9 298.8,227.7 303.3,227.5 307.8,227.3 312.4,227.2 316.9,227.1 321.4,227.0 325.9,227.0 330.5,226.9 335.0,226.9 339.5,226.8 344.0,226.8 348.6,226.8 353.1,226.8 357.6,226.8 362.1,226.8 366.7,226.8 371.2,226.8 375.7,226.8 380.2,226.8 384.7,226.7 389.3,226.7 393.8,226.7 398.3,226.7 402.8,226.7 407.4,226.7 411.9,226.7 416.4,226.7 420.9,226.7 425.5,226.7" class="ho"/>
<polyline points="36.4,305.3 40.9,305.3 45.4,305.3 50.0,305.3 54.5,305.3 59.0,305.3 63.5,305.3 68.1,305.3 72.6,305.3 77.1,305.2 81.6,305.1 86.2,304.9 90.7,304.6 95.2,304.1 99.7,303.4 104.3,302.5 108.8,301.3 113.3,299.7 117.8,297.9 122.4,295.8 126.9,293.5 131.4,291.0 135.9,288.4 140.5,285.6 145.0,282.9 149.5,280.1 154.0,277.4 158.5,274.7 163.1,272.1 167.6,269.6 172.1,267.1 176.6,264.6 181.2,262.2 185.7,259.9 190.2,257.6 194.7,255.3 199.3,253.0 203.8,250.8 208.3,248.7 212.8,246.6 217.4,244.6 221.9,242.7 226.4,241.0 230.9,239.3 235.5,237.8 240.0,236.3 244.5,235.1 249.0,233.9 253.6,232.9 258.1,231.9 262.6,231.1 267.1,230.4 271.6,229.8 276.2,229.3 280.7,228.8 285.2,228.5 289.7,228.1 294.3,227.9 298.8,227.7 303.3,227.5 307.8,227.3 312.4,227.2 316.9,227.1 321.4,227.0 325.9,227.0 330.5,226.9 335.0,226.9 339.5,226.8 344.0,226.8 348.6,226.8 353.1,226.8 357.6,226.8 362.1,226.8 366.7,226.8 371.2,226.8 375.7,226.8 380.2,226.8 384.7,226.7 389.3,226.7 393.8,226.7 398.3,226.7 402.8,226.7 407.4,226.7 411.9,226.7 416.4,226.7 420.9,226.7 425.5,226.7" class="ln" stroke="#190e18"/>
<text x="230.9" y="341.0" class="al" text-anchor="middle" textLength="71" lengthAdjust="spacingAndGlyphs">Age of women</text>
<text x="442.4" y="164.7" class="pt" textLength="38.5" lengthAdjust="spacingAndGlyphs">Spain</text>
<line x1="442.4" x2="831.5" y1="266.9" y2="266.9" class="gl"/>
<line x1="442.4" x2="831.5" y1="228.6" y2="228.6" class="gl"/>
<line x1="442.4" x2="831.5" y1="190.2" y2="190.2" class="gl"/>
<line x1="442.4" x2="831.5" y1="305.3" y2="305.3" class="ax"/>
<line x1="442.4" x2="442.4" y1="305.3" y2="310.3" class="ax"/>
<text x="443.0" y="321.3" class="tk">12</text>
<line x1="514.8" x2="514.8" y1="305.3" y2="310.3" class="ax"/>
<text x="514.8" y="321.3" class="tk" text-anchor="middle">20</text>
<line x1="605.3" x2="605.3" y1="305.3" y2="310.3" class="ax"/>
<text x="605.3" y="321.3" class="tk" text-anchor="middle">30</text>
<line x1="695.7" x2="695.7" y1="305.3" y2="310.3" class="ax"/>
<text x="695.7" y="321.3" class="tk" text-anchor="middle">40</text>
<line x1="786.2" x2="786.2" y1="305.3" y2="310.3" class="ax"/>
<text x="786.2" y="321.3" class="tk" text-anchor="middle">50</text>
<line x1="831.5" x2="831.5" y1="305.3" y2="310.3" class="ax"/>
<text x="831.3" y="321.3" class="tk" text-anchor="end">55</text>
<polyline points="442.4,305.3 446.9,305.3 451.4,305.3" class="ho"/>
<polyline points="442.4,305.3 446.9,305.3 451.4,305.3" class="ln" stroke="#c4eacf"/>
<polyline points="442.4,305.3 446.9,305.3 451.4,305.3 456.0,305.3 460.5,305.3 465.0,305.3 469.5,305.3 474.1,305.3 478.6,305.3 483.1,305.3 487.6,305.3 492.2,305.2 496.7,305.2" class="ho"/>
<polyline points="442.4,305.3 446.9,305.3 451.4,305.3 456.0,305.3 460.5,305.3 465.0,305.3 469.5,305.3 474.1,305.3 478.6,305.3 483.1,305.3 487.6,305.3 492.2,305.2 496.7,305.2" class="ln" stroke="#a6e1bc"/>
<polyline points="442.4,305.3 446.9,305.3 451.4,305.3 456.0,305.3 460.5,305.3 465.0,305.3 469.5,305.3 474.1,305.3 478.6,305.3 483.1,305.3 487.6,305.2 492.2,305.2 496.7,305.1 501.2,305.0 505.7,304.9 510.3,304.7 514.8,304.5 519.3,304.3 523.8,304.0 528.4,303.7 532.9,303.4 537.4,303.0 541.9,302.6" class="ho"/>
<polyline points="442.4,305.3 446.9,305.3 451.4,305.3 456.0,305.3 460.5,305.3 465.0,305.3 469.5,305.3 474.1,305.3 478.6,305.3 483.1,305.3 487.6,305.2 492.2,305.2 496.7,305.1 501.2,305.0 505.7,304.9 510.3,304.7 514.8,304.5 519.3,304.3 523.8,304.0 528.4,303.7 532.9,303.4 537.4,303.0 541.9,302.6" class="ln" stroke="#7fd7af"/>
<polyline points="442.4,305.3 446.9,305.3 451.4,305.3 456.0,305.3 460.5,305.3 465.0,305.3 469.5,305.3 474.1,305.3 478.6,305.2 483.1,305.2 487.6,305.1 492.2,305.1 496.7,305.0 501.2,304.8 505.7,304.7 510.3,304.5 514.8,304.2 519.3,303.9 523.8,303.6 528.4,303.2 532.9,302.7 537.4,302.2 541.9,301.6 546.5,301.0 551.0,300.3 555.5,299.6 560.0,298.8 564.5,298.0 569.1,297.1 573.6,296.2 578.1,295.3 582.6,294.4 587.2,293.4" class="ho"/>
<polyline points="442.4,305.3 446.9,305.3 451.4,305.3 456.0,305.3 460.5,305.3 465.0,305.3 469.5,305.3 474.1,305.3 478.6,305.2 483.1,305.2 487.6,305.1 492.2,305.1 496.7,305.0 501.2,304.8 505.7,304.7 510.3,304.5 514.8,304.2 519.3,303.9 523.8,303.6 528.4,303.2 532.9,302.7 537.4,302.2 541.9,301.6 546.5,301.0 551.0,300.3 555.5,299.6 560.0,298.8 564.5,298.0 569.1,297.1 573.6,296.2 578.1,295.3 582.6,294.4 587.2,293.4" class="ln" stroke="#5bcdad"/>
<polyline points="442.4,305.3 446.9,305.3 451.4,305.3 456.0,305.3 460.5,305.3 465.0,305.3 469.5,305.3 474.1,305.3 478.6,305.2 483.1,305.2 487.6,305.2 492.2,305.1 496.7,305.0 501.2,304.8 505.7,304.6 510.3,304.4 514.8,304.1 519.3,303.7 523.8,303.3 528.4,302.8 532.9,302.3 537.4,301.6 541.9,301.0 546.5,300.2 551.0,299.4 555.5,298.6 560.0,297.7 564.5,296.8 569.1,295.8 573.6,294.8 578.1,293.7 582.6,292.6 587.2,291.5 591.7,290.3 596.2,289.1 600.7,287.8 605.3,286.5 609.8,285.2 614.3,283.8 618.8,282.5 623.4,281.3 627.9,280.0 632.4,278.9" class="ho"/>
<polyline points="442.4,305.3 446.9,305.3 451.4,305.3 456.0,305.3 460.5,305.3 465.0,305.3 469.5,305.3 474.1,305.3 478.6,305.2 483.1,305.2 487.6,305.2 492.2,305.1 496.7,305.0 501.2,304.8 505.7,304.6 510.3,304.4 514.8,304.1 519.3,303.7 523.8,303.3 528.4,302.8 532.9,302.3 537.4,301.6 541.9,301.0 546.5,300.2 551.0,299.4 555.5,298.6 560.0,297.7 564.5,296.8 569.1,295.8 573.6,294.8 578.1,293.7 582.6,292.6 587.2,291.5 591.7,290.3 596.2,289.1 600.7,287.8 605.3,286.5 609.8,285.2 614.3,283.8 618.8,282.5 623.4,281.3 627.9,280.0 632.4,278.9" class="ln" stroke="#46bead"/>
<polyline points="442.4,305.3 446.9,305.3 451.4,305.3 456.0,305.3 460.5,305.3 465.0,305.3 469.5,305.3 474.1,305.3 478.6,305.2 483.1,305.2 487.6,305.1 492.2,305.0 496.7,304.9 501.2,304.8 505.7,304.5 510.3,304.3 514.8,303.9 519.3,303.6 523.8,303.1 528.4,302.6 532.9,302.0 537.4,301.3 541.9,300.5 546.5,299.7 551.0,298.8 555.5,297.9 560.0,296.9 564.5,295.9 569.1,294.8 573.6,293.8 578.1,292.6 582.6,291.5 587.2,290.4 591.7,289.2 596.2,288.0 600.7,286.8 605.3,285.5 609.8,284.1 614.3,282.7 618.8,281.2 623.4,279.5 627.9,277.8 632.4,276.1 636.9,274.2 641.5,272.3 646.0,270.5 650.5,268.6 655.0,266.8 659.6,265.1 664.1,263.5 668.6,262.1 673.1,260.7 677.6,259.6" class="ho"/>
<polyline points="442.4,305.3 446.9,305.3 451.4,305.3 456.0,305.3 460.5,305.3 465.0,305.3 469.5,305.3 474.1,305.3 478.6,305.2 483.1,305.2 487.6,305.1 492.2,305.0 496.7,304.9 501.2,304.8 505.7,304.5 510.3,304.3 514.8,303.9 519.3,303.6 523.8,303.1 528.4,302.6 532.9,302.0 537.4,301.3 541.9,300.5 546.5,299.7 551.0,298.8 555.5,297.9 560.0,296.9 564.5,295.9 569.1,294.8 573.6,293.8 578.1,292.6 582.6,291.5 587.2,290.4 591.7,289.2 596.2,288.0 600.7,286.8 605.3,285.5 609.8,284.1 614.3,282.7 618.8,281.2 623.4,279.5 627.9,277.8 632.4,276.1 636.9,274.2 641.5,272.3 646.0,270.5 650.5,268.6 655.0,266.8 659.6,265.1 664.1,263.5 668.6,262.1 673.1,260.7 677.6,259.6" class="ln" stroke="#3bafad"/>
<polyline points="442.4,305.3 446.9,305.3 451.4,305.3 456.0,305.3 460.5,305.3 465.0,305.3 469.5,305.3 474.1,305.3 478.6,305.2 483.1,305.2 487.6,305.1 492.2,305.0 496.7,304.9 501.2,304.8 505.7,304.6 510.3,304.3 514.8,304.0 519.3,303.6 523.8,303.1 528.4,302.6 532.9,302.0 537.4,301.3 541.9,300.5 546.5,299.7 551.0,298.8 555.5,297.9 560.0,296.9 564.5,295.9 569.1,294.8 573.6,293.7 578.1,292.6 582.6,291.5 587.2,290.4 591.7,289.2 596.2,288.0 600.7,286.8 605.3,285.5 609.8,284.2 614.3,282.7 618.8,281.2 623.4,279.6 627.9,277.9 632.4,276.1 636.9,274.2 641.5,272.3 646.0,270.4 650.5,268.5 655.0,266.7 659.6,265.0 664.1,263.3 668.6,261.9 673.1,260.5 677.6,259.4 682.2,258.3 686.7,257.5 691.2,256.7 695.7,256.1 700.3,255.6 704.8,255.2 709.3,254.8 713.8,254.6 718.4,254.3 722.9,254.2" class="ho"/>
<polyline points="442.4,305.3 446.9,305.3 451.4,305.3 456.0,305.3 460.5,305.3 465.0,305.3 469.5,305.3 474.1,305.3 478.6,305.2 483.1,305.2 487.6,305.1 492.2,305.0 496.7,304.9 501.2,304.8 505.7,304.6 510.3,304.3 514.8,304.0 519.3,303.6 523.8,303.1 528.4,302.6 532.9,302.0 537.4,301.3 541.9,300.5 546.5,299.7 551.0,298.8 555.5,297.9 560.0,296.9 564.5,295.9 569.1,294.8 573.6,293.7 578.1,292.6 582.6,291.5 587.2,290.4 591.7,289.2 596.2,288.0 600.7,286.8 605.3,285.5 609.8,284.2 614.3,282.7 618.8,281.2 623.4,279.6 627.9,277.9 632.4,276.1 636.9,274.2 641.5,272.3 646.0,270.4 650.5,268.5 655.0,266.7 659.6,265.0 664.1,263.3 668.6,261.9 673.1,260.5 677.6,259.4 682.2,258.3 686.7,257.5 691.2,256.7 695.7,256.1 700.3,255.6 704.8,255.2 709.3,254.8 713.8,254.6 718.4,254.3 722.9,254.2" class="ln" stroke="#35a0ab"/>
<polyline points="442.4,305.3 446.9,305.3 451.4,305.3 456.0,305.3 460.5,305.3 465.0,305.3 469.5,305.3 474.1,305.3 478.6,305.2 483.1,305.2 487.6,305.1 492.2,305.1 496.7,304.9 501.2,304.8 505.7,304.6 510.3,304.3 514.8,304.0 519.3,303.6 523.8,303.1 528.4,302.6 532.9,302.0 537.4,301.3 541.9,300.5 546.5,299.7 551.0,298.8 555.5,297.9 560.0,296.9 564.5,295.9 569.1,294.8 573.6,293.7 578.1,292.6 582.6,291.5 587.2,290.4 591.7,289.2 596.2,288.1 600.7,286.8 605.3,285.6 609.8,284.2 614.3,282.8 618.8,281.3 623.4,279.6 627.9,277.9 632.4,276.1 636.9,274.2 641.5,272.3 646.0,270.4 650.5,268.5 655.0,266.7 659.6,264.9 664.1,263.3 668.6,261.8 673.1,260.5 677.6,259.3 682.2,258.3 686.7,257.5 691.2,256.7 695.7,256.1 700.3,255.6 704.8,255.2 709.3,254.9 713.8,254.6 718.4,254.4 722.9,254.2 727.4,254.1 731.9,254.0 736.5,253.9 741.0,253.8 745.5,253.8 750.0,253.7 754.6,253.7 759.1,253.7 763.6,253.6 768.1,253.6" class="ho"/>
<polyline points="442.4,305.3 446.9,305.3 451.4,305.3 456.0,305.3 460.5,305.3 465.0,305.3 469.5,305.3 474.1,305.3 478.6,305.2 483.1,305.2 487.6,305.1 492.2,305.1 496.7,304.9 501.2,304.8 505.7,304.6 510.3,304.3 514.8,304.0 519.3,303.6 523.8,303.1 528.4,302.6 532.9,302.0 537.4,301.3 541.9,300.5 546.5,299.7 551.0,298.8 555.5,297.9 560.0,296.9 564.5,295.9 569.1,294.8 573.6,293.7 578.1,292.6 582.6,291.5 587.2,290.4 591.7,289.2 596.2,288.1 600.7,286.8 605.3,285.6 609.8,284.2 614.3,282.8 618.8,281.3 623.4,279.6 627.9,277.9 632.4,276.1 636.9,274.2 641.5,272.3 646.0,270.4 650.5,268.5 655.0,266.7 659.6,264.9 664.1,263.3 668.6,261.8 673.1,260.5 677.6,259.3 682.2,258.3 686.7,257.5 691.2,256.7 695.7,256.1 700.3,255.6 704.8,255.2 709.3,254.9 713.8,254.6 718.4,254.4 722.9,254.2 727.4,254.1 731.9,254.0 736.5,253.9 741.0,253.8 745.5,253.8 750.0,253.7 754.6,253.7 759.1,253.7 763.6,253.6 768.1,253.6" class="ln" stroke="#3491a8"/>
<polyline points="442.4,305.3 446.9,305.3 451.4,305.3 456.0,305.3 460.5,305.3 465.0,305.3 469.5,305.3 474.1,305.3 478.6,305.2 483.1,305.2 487.6,305.1 492.2,305.0 496.7,304.9 501.2,304.7 505.7,304.5 510.3,304.2 514.8,303.8 519.3,303.3 523.8,302.7 528.4,302.1 532.9,301.3 537.4,300.5 541.9,299.5 546.5,298.5 551.0,297.4 555.5,296.3 560.0,295.0 564.5,293.8 569.1,292.4 573.6,291.1 578.1,289.7 582.6,288.3 587.2,286.9 591.7,285.4 596.2,283.9 600.7,282.3 605.3,280.7 609.8,278.9 614.3,277.1 618.8,275.2 623.4,273.3 627.9,271.3 632.4,269.2 636.9,267.2 641.5,265.3 646.0,263.4 650.5,261.6 655.0,259.9 659.6,258.4 664.1,257.0 668.6,255.8 673.1,254.8 677.6,253.9 682.2,253.1 686.7,252.5 691.2,252.0 695.7,251.5 700.3,251.2 704.8,250.9 709.3,250.7 713.8,250.5 718.4,250.4 722.9,250.3 727.4,250.2 731.9,250.1 736.5,250.1 741.0,250.0 745.5,250.0 750.0,249.9 754.6,249.9 759.1,249.9 763.6,249.9 768.1,249.9 772.7,249.8 777.2,249.8 781.7,249.8 786.2,249.8 790.7,249.8 795.3,249.8 799.8,249.8 804.3,249.8 808.8,249.8 813.4,249.8" class="ho"/>
<polyline points="442.4,305.3 446.9,305.3 451.4,305.3 456.0,305.3 460.5,305.3 465.0,305.3 469.5,305.3 474.1,305.3 478.6,305.2 483.1,305.2 487.6,305.1 492.2,305.0 496.7,304.9 501.2,304.7 505.7,304.5 510.3,304.2 514.8,303.8 519.3,303.3 523.8,302.7 528.4,302.1 532.9,301.3 537.4,300.5 541.9,299.5 546.5,298.5 551.0,297.4 555.5,296.3 560.0,295.0 564.5,293.8 569.1,292.4 573.6,291.1 578.1,289.7 582.6,288.3 587.2,286.9 591.7,285.4 596.2,283.9 600.7,282.3 605.3,280.7 609.8,278.9 614.3,277.1 618.8,275.2 623.4,273.3 627.9,271.3 632.4,269.2 636.9,267.2 641.5,265.3 646.0,263.4 650.5,261.6 655.0,259.9 659.6,258.4 664.1,257.0 668.6,255.8 673.1,254.8 677.6,253.9 682.2,253.1 686.7,252.5 691.2,252.0 695.7,251.5 700.3,251.2 704.8,250.9 709.3,250.7 713.8,250.5 718.4,250.4 722.9,250.3 727.4,250.2 731.9,250.1 736.5,250.1 741.0,250.0 745.5,250.0 750.0,249.9 754.6,249.9 759.1,249.9 763.6,249.9 768.1,249.9 772.7,249.8 777.2,249.8 781.7,249.8 786.2,249.8 790.7,249.8 795.3,249.8 799.8,249.8 804.3,249.8 808.8,249.8 813.4,249.8" class="ln" stroke="#3482a4"/>
<polyline points="442.4,305.3 446.9,305.3 451.4,305.3 456.0,305.3 460.5,305.3 465.0,305.3 469.5,305.3 474.1,305.2 478.6,305.2 483.1,305.1 487.6,305.0 492.2,304.8 496.7,304.6 501.2,304.3 505.7,303.9 510.3,303.4 514.8,302.8 519.3,302.1 523.8,301.3 528.4,300.4 532.9,299.3 537.4,298.1 541.9,296.9 546.5,295.5 551.0,294.0 555.5,292.5 560.0,290.9 564.5,289.2 569.1,287.5 573.6,285.8 578.1,284.0 582.6,282.3 587.2,280.4 591.7,278.5 596.2,276.6 600.7,274.7 605.3,272.7 609.8,270.6 614.3,268.6 618.8,266.5 623.4,264.4 627.9,262.4 632.4,260.5 636.9,258.6 641.5,256.8 646.0,255.2 650.5,253.7 655.0,252.4 659.6,251.2 664.1,250.2 668.6,249.3 673.1,248.5 677.6,247.8 682.2,247.3 686.7,246.8 691.2,246.4 695.7,246.1 700.3,245.9 704.8,245.6 709.3,245.5 713.8,245.3 718.4,245.2 722.9,245.1 727.4,245.0 731.9,244.9 736.5,244.9 741.0,244.8 745.5,244.8 750.0,244.8 754.6,244.7 759.1,244.7 763.6,244.7 768.1,244.7 772.7,244.6 777.2,244.6 781.7,244.6 786.2,244.6 790.7,244.6 795.3,244.6 799.8,244.6 804.3,244.6 808.8,244.6 813.4,244.6 817.9,244.6 822.4,244.6 826.9,244.6 831.5,244.6" class="ho"/>
<polyline points="442.4,305.3 446.9,305.3 451.4,305.3 456.0,305.3 460.5,305.3 465.0,305.3 469.5,305.3 474.1,305.2 478.6,305.2 483.1,305.1 487.6,305.0 492.2,304.8 496.7,304.6 501.2,304.3 505.7,303.9 510.3,303.4 514.8,302.8 519.3,302.1 523.8,301.3 528.4,300.4 532.9,299.3 537.4,298.1 541.9,296.9 546.5,295.5 551.0,294.0 555.5,292.5 560.0,290.9 564.5,289.2 569.1,287.5 573.6,285.8 578.1,284.0 582.6,282.3 587.2,280.4 591.7,278.5 596.2,276.6 600.7,274.7 605.3,272.7 609.8,270.6 614.3,268.6 618.8,266.5 623.4,264.4 627.9,262.4 632.4,260.5 636.9,258.6 641.5,256.8 646.0,255.2 650.5,253.7 655.0,252.4 659.6,251.2 664.1,250.2 668.6,249.3 673.1,248.5 677.6,247.8 682.2,247.3 686.7,246.8 691.2,246.4 695.7,246.1 700.3,245.9 704.8,245.6 709.3,245.5 713.8,245.3 718.4,245.2 722.9,245.1 727.4,245.0 731.9,244.9 736.5,244.9 741.0,244.8 745.5,244.8 750.0,244.8 754.6,244.7 759.1,244.7 763.6,244.7 768.1,244.7 772.7,244.6 777.2,244.6 781.7,244.6 786.2,244.6 790.7,244.6 795.3,244.6 799.8,244.6 804.3,244.6 808.8,244.6 813.4,244.6 817.9,244.6 822.4,244.6 826.9,244.6 831.5,244.6" class="ln" stroke="#3573a1"/>
<polyline points="442.4,305.3 446.9,305.3 451.4,305.3 456.0,305.3 460.5,305.3 465.0,305.3 469.5,305.2 474.1,305.1 478.6,305.0 483.1,304.9 487.6,304.6 492.2,304.3 496.7,303.9 501.2,303.3 505.7,302.6 510.3,301.8 514.8,300.8 519.3,299.7 523.8,298.4 528.4,296.9 532.9,295.3 537.4,293.6 541.9,291.8 546.5,289.8 551.0,287.8 555.5,285.7 560.0,283.5 564.5,281.3 569.1,279.1 573.6,276.9 578.1,274.6 582.6,272.4 587.2,270.2 591.7,268.0 596.2,265.8 600.7,263.6 605.3,261.5 609.8,259.4 614.3,257.5 618.8,255.6 623.4,253.8 627.9,252.1 632.4,250.5 636.9,249.0 641.5,247.7 646.0,246.5 650.5,245.5 655.0,244.5 659.6,243.7 664.1,243.0 668.6,242.3 673.1,241.8 677.6,241.3 682.2,240.9 686.7,240.6 691.2,240.3 695.7,240.0 700.3,239.8 704.8,239.6 709.3,239.5 713.8,239.4 718.4,239.2 722.9,239.1 727.4,239.1 731.9,239.0 736.5,238.9 741.0,238.9 745.5,238.8 750.0,238.8 754.6,238.8 759.1,238.7 763.6,238.7 768.1,238.7 772.7,238.7 777.2,238.7 781.7,238.7 786.2,238.6 790.7,238.6 795.3,238.6 799.8,238.6 804.3,238.6 808.8,238.6 813.4,238.6 817.9,238.6 822.4,238.6 826.9,238.6 831.5,238.6" class="ho"/>
<polyline points="442.4,305.3 446.9,305.3 451.4,305.3 456.0,305.3 460.5,305.3 465.0,305.3 469.5,305.2 474.1,305.1 478.6,305.0 483.1,304.9 487.6,304.6 492.2,304.3 496.7,303.9 501.2,303.3 505.7,302.6 510.3,301.8 514.8,300.8 519.3,299.7 523.8,298.4 528.4,296.9 532.9,295.3 537.4,293.6 541.9,291.8 546.5,289.8 551.0,287.8 555.5,285.7 560.0,283.5 564.5,281.3 569.1,279.1 573.6,276.9 578.1,274.6 582.6,272.4 587.2,270.2 591.7,268.0 596.2,265.8 600.7,263.6 605.3,261.5 609.8,259.4 614.3,257.5 618.8,255.6 623.4,253.8 627.9,252.1 632.4,250.5 636.9,249.0 641.5,247.7 646.0,246.5 650.5,245.5 655.0,244.5 659.6,243.7 664.1,243.0 668.6,242.3 673.1,241.8 677.6,241.3 682.2,240.9 686.7,240.6 691.2,240.3 695.7,240.0 700.3,239.8 704.8,239.6 709.3,239.5 713.8,239.4 718.4,239.2 722.9,239.1 727.4,239.1 731.9,239.0 736.5,238.9 741.0,238.9 745.5,238.8 750.0,238.8 754.6,238.8 759.1,238.7 763.6,238.7 768.1,238.7 772.7,238.7 777.2,238.7 781.7,238.7 786.2,238.6 790.7,238.6 795.3,238.6 799.8,238.6 804.3,238.6 808.8,238.6 813.4,238.6 817.9,238.6 822.4,238.6 826.9,238.6 831.5,238.6" class="ln" stroke="#38639d"/>
<polyline points="442.4,305.3 446.9,305.3 451.4,305.3 456.0,305.3 460.5,305.3 465.0,305.2 469.5,305.2 474.1,305.1 478.6,304.9 483.1,304.7 487.6,304.5 492.2,304.1 496.7,303.7 501.2,303.1 505.7,302.4 510.3,301.6 514.8,300.5 519.3,299.3 523.8,297.8 528.4,296.1 532.9,294.1 537.4,291.8 541.9,289.3 546.5,286.5 551.0,283.6 555.5,280.5 560.0,277.2 564.5,274.0 569.1,270.7 573.6,267.5 578.1,264.5 582.6,261.5 587.2,258.7 591.7,256.1 596.2,253.7 600.7,251.5 605.3,249.5 609.8,247.7 614.3,246.0 618.8,244.5 623.4,243.2 627.9,241.9 632.4,240.8 636.9,239.8 641.5,238.9 646.0,238.1 650.5,237.4 655.0,236.7 659.6,236.1 664.1,235.5 668.6,235.0 673.1,234.6 677.6,234.2 682.2,233.8 686.7,233.5 691.2,233.2 695.7,233.0 700.3,232.7 704.8,232.5 709.3,232.4 713.8,232.2 718.4,232.1 722.9,231.9 727.4,231.8 731.9,231.7 736.5,231.6 741.0,231.6 745.5,231.5 750.0,231.4 754.6,231.4 759.1,231.3 763.6,231.3 768.1,231.3 772.7,231.2 777.2,231.2 781.7,231.2 786.2,231.2 790.7,231.2 795.3,231.1 799.8,231.1 804.3,231.1 808.8,231.1 813.4,231.1 817.9,231.1 822.4,231.1 826.9,231.1 831.5,231.1" class="ho"/>
<polyline points="442.4,305.3 446.9,305.3 451.4,305.3 456.0,305.3 460.5,305.3 465.0,305.2 469.5,305.2 474.1,305.1 478.6,304.9 483.1,304.7 487.6,304.5 492.2,304.1 496.7,303.7 501.2,303.1 505.7,302.4 510.3,301.6 514.8,300.5 519.3,299.3 523.8,297.8 528.4,296.1 532.9,294.1 537.4,291.8 541.9,289.3 546.5,286.5 551.0,283.6 555.5,280.5 560.0,277.2 564.5,274.0 569.1,270.7 573.6,267.5 578.1,264.5 582.6,261.5 587.2,258.7 591.7,256.1 596.2,253.7 600.7,251.5 605.3,249.5 609.8,247.7 614.3,246.0 618.8,244.5 623.4,243.2 627.9,241.9 632.4,240.8 636.9,239.8 641.5,238.9 646.0,238.1 650.5,237.4 655.0,236.7 659.6,236.1 664.1,235.5 668.6,235.0 673.1,234.6 677.6,234.2 682.2,233.8 686.7,233.5 691.2,233.2 695.7,233.0 700.3,232.7 704.8,232.5 709.3,232.4 713.8,232.2 718.4,232.1 722.9,231.9 727.4,231.8 731.9,231.7 736.5,231.6 741.0,231.6 745.5,231.5 750.0,231.4 754.6,231.4 759.1,231.3 763.6,231.3 768.1,231.3 772.7,231.2 777.2,231.2 781.7,231.2 786.2,231.2 790.7,231.2 795.3,231.1 799.8,231.1 804.3,231.1 808.8,231.1 813.4,231.1 817.9,231.1 822.4,231.1 826.9,231.1 831.5,231.1" class="ln" stroke="#3c5397"/>
<polyline points="442.4,305.3 446.9,305.3 451.4,305.3 456.0,305.3 460.5,305.3 465.0,305.3 469.5,305.3 474.1,305.3 478.6,305.3 483.1,305.1 487.6,304.9 492.2,304.5 496.7,304.1 501.2,303.6 505.7,302.9 510.3,302.2 514.8,301.2 519.3,300.1 523.8,298.6 528.4,296.9 532.9,294.8 537.4,292.4 541.9,289.7 546.5,286.7 551.0,283.3 555.5,279.8 560.0,276.1 564.5,272.3 569.1,268.5 573.6,264.7 578.1,261.1 582.6,257.5 587.2,254.1 591.7,250.9 596.2,248.0 600.7,245.2 605.3,242.7 609.8,240.4 614.3,238.4 618.8,236.6 623.4,234.9 627.9,233.5 632.4,232.2 636.9,231.1 641.5,230.1 646.0,229.3 650.5,228.5 655.0,227.9 659.6,227.3 664.1,226.8 668.6,226.4 673.1,226.0 677.6,225.7 682.2,225.4 686.7,225.2 691.2,225.0 695.7,224.8 700.3,224.6 704.8,224.5 709.3,224.4 713.8,224.2 718.4,224.1 722.9,224.1 727.4,224.0 731.9,223.9 736.5,223.8 741.0,223.8 745.5,223.7 750.0,223.7 754.6,223.6 759.1,223.6 763.6,223.5 768.1,223.5 772.7,223.5 777.2,223.4 781.7,223.4 786.2,223.4 790.7,223.4 795.3,223.3 799.8,223.3 804.3,223.3 808.8,223.3 813.4,223.3 817.9,223.2 822.4,223.2 826.9,223.2 831.5,223.2" class="ho"/>
<polyline points="442.4,305.3 446.9,305.3 451.4,305.3 456.0,305.3 460.5,305.3 465.0,305.3 469.5,305.3 474.1,305.3 478.6,305.3 483.1,305.1 487.6,304.9 492.2,304.5 496.7,304.1 501.2,303.6 505.7,302.9 510.3,302.2 514.8,301.2 519.3,300.1 523.8,298.6 528.4,296.9 532.9,294.8 537.4,292.4 541.9,289.7 546.5,286.7 551.0,283.3 555.5,279.8 560.0,276.1 564.5,272.3 569.1,268.5 573.6,264.7 578.1,261.1 582.6,257.5 587.2,254.1 591.7,250.9 596.2,248.0 600.7,245.2 605.3,242.7 609.8,240.4 614.3,238.4 618.8,236.6 623.4,234.9 627.9,233.5 632.4,232.2 636.9,231.1 641.5,230.1 646.0,229.3 650.5,228.5 655.0,227.9 659.6,227.3 664.1,226.8 668.6,226.4 673.1,226.0 677.6,225.7 682.2,225.4 686.7,225.2 691.2,225.0 695.7,224.8 700.3,224.6 704.8,224.5 709.3,224.4 713.8,224.2 718.4,224.1 722.9,224.1 727.4,224.0 731.9,223.9 736.5,223.8 741.0,223.8 745.5,223.7 750.0,223.7 754.6,223.6 759.1,223.6 763.6,223.5 768.1,223.5 772.7,223.5 777.2,223.4 781.7,223.4 786.2,223.4 790.7,223.4 795.3,223.3 799.8,223.3 804.3,223.3 808.8,223.3 813.4,223.3 817.9,223.2 822.4,223.2 826.9,223.2 831.5,223.2" class="ln" stroke="#414387"/>
<polyline points="442.4,305.3 446.9,305.3 451.4,305.3 456.0,305.3 460.5,305.3 465.0,305.3 469.5,305.3 474.1,305.3 478.6,305.3 483.1,305.2 487.6,305.0 492.2,304.8 496.7,304.5 501.2,304.1 505.7,303.6 510.3,302.9 514.8,302.1 519.3,301.1 523.8,299.8 528.4,298.2 532.9,296.3 537.4,294.0 541.9,291.5 546.5,288.7 551.0,285.6 555.5,282.3 560.0,278.8 564.5,275.2 569.1,271.5 573.6,267.7 578.1,263.9 582.6,260.2 587.2,256.6 591.7,253.0 596.2,249.6 600.7,246.3 605.3,243.2 609.8,240.3 614.3,237.6 618.8,235.1 623.4,232.8 627.9,230.6 632.4,228.7 636.9,226.9 641.5,225.3 646.0,223.9 650.5,222.6 655.0,221.4 659.6,220.4 664.1,219.4 668.6,218.6 673.1,217.9 677.6,217.3 682.2,216.7 686.7,216.3 691.2,215.8 695.7,215.5 700.3,215.2 704.8,214.9 709.3,214.6 713.8,214.4 718.4,214.3 722.9,214.1 727.4,214.0 731.9,213.9 736.5,213.8 741.0,213.7 745.5,213.6 750.0,213.6 754.6,213.5 759.1,213.5 763.6,213.4 768.1,213.4 772.7,213.4 777.2,213.4 781.7,213.4 786.2,213.3 790.7,213.3 795.3,213.3 799.8,213.3 804.3,213.3 808.8,213.3 813.4,213.3 817.9,213.3 822.4,213.3 826.9,213.3 831.5,213.3" class="ho"/>
<polyline points="442.4,305.3 446.9,305.3 451.4,305.3 456.0,305.3 460.5,305.3 465.0,305.3 469.5,305.3 474.1,305.3 478.6,305.3 483.1,305.2 487.6,305.0 492.2,304.8 496.7,304.5 501.2,304.1 505.7,303.6 510.3,302.9 514.8,302.1 519.3,301.1 523.8,299.8 528.4,298.2 532.9,296.3 537.4,294.0 541.9,291.5 546.5,288.7 551.0,285.6 555.5,282.3 560.0,278.8 564.5,275.2 569.1,271.5 573.6,267.7 578.1,263.9 582.6,260.2 587.2,256.6 591.7,253.0 596.2,249.6 600.7,246.3 605.3,243.2 609.8,240.3 614.3,237.6 618.8,235.1 623.4,232.8 627.9,230.6 632.4,228.7 636.9,226.9 641.5,225.3 646.0,223.9 650.5,222.6 655.0,221.4 659.6,220.4 664.1,219.4 668.6,218.6 673.1,217.9 677.6,217.3 682.2,216.7 686.7,216.3 691.2,215.8 695.7,215.5 700.3,215.2 704.8,214.9 709.3,214.6 713.8,214.4 718.4,214.3 722.9,214.1 727.4,214.0 731.9,213.9 736.5,213.8 741.0,213.7 745.5,213.6 750.0,213.6 754.6,213.5 759.1,213.5 763.6,213.4 768.1,213.4 772.7,213.4 777.2,213.4 781.7,213.4 786.2,213.3 790.7,213.3 795.3,213.3 799.8,213.3 804.3,213.3 808.8,213.3 813.4,213.3 817.9,213.3 822.4,213.3 826.9,213.3 831.5,213.3" class="ln" stroke="#3f3770"/>
<polyline points="442.4,305.3 446.9,305.3 451.4,305.3 456.0,305.3 460.5,305.3 465.0,305.3 469.5,305.3 474.1,305.3 478.6,305.3 483.1,305.2 487.6,305.2 492.2,305.1 496.7,304.9 501.2,304.6 505.7,304.2 510.3,303.7 514.8,302.9 519.3,302.0 523.8,300.8 528.4,299.3 532.9,297.6 537.4,295.5 541.9,293.2 546.5,290.6 551.0,287.7 555.5,284.6 560.0,281.2 564.5,277.8 569.1,274.2 573.6,270.5 578.1,266.9 582.6,263.2 587.2,259.6 591.7,256.1 596.2,252.6 600.7,249.3 605.3,246.1 609.8,243.0 614.3,240.1 618.8,237.2 623.4,234.6 627.9,232.0 632.4,229.6 636.9,227.3 641.5,225.1 646.0,223.1 650.5,221.1 655.0,219.4 659.6,217.7 664.1,216.2 668.6,214.9 673.1,213.7 677.6,212.6 682.2,211.6 686.7,210.8 691.2,210.1 695.7,209.5 700.3,209.0 704.8,208.5 709.3,208.2 713.8,207.9 718.4,207.6 722.9,207.4 727.4,207.3 731.9,207.2 736.5,207.1 741.0,207.0 745.5,206.9 750.0,206.9 754.6,206.8 759.1,206.8 763.6,206.8 768.1,206.8 772.7,206.8 777.2,206.8 781.7,206.8 786.2,206.8 790.7,206.7 795.3,206.7 799.8,206.7 804.3,206.7 808.8,206.7 813.4,206.7 817.9,206.7 822.4,206.7 826.9,206.7 831.5,206.7" class="ho"/>
<polyline points="442.4,305.3 446.9,305.3 451.4,305.3 456.0,305.3 460.5,305.3 465.0,305.3 469.5,305.3 474.1,305.3 478.6,305.3 483.1,305.2 487.6,305.2 492.2,305.1 496.7,304.9 501.2,304.6 505.7,304.2 510.3,303.7 514.8,302.9 519.3,302.0 523.8,300.8 528.4,299.3 532.9,297.6 537.4,295.5 541.9,293.2 546.5,290.6 551.0,287.7 555.5,284.6 560.0,281.2 564.5,277.8 569.1,274.2 573.6,270.5 578.1,266.9 582.6,263.2 587.2,259.6 591.7,256.1 596.2,252.6 600.7,249.3 605.3,246.1 609.8,243.0 614.3,240.1 618.8,237.2 623.4,234.6 627.9,232.0 632.4,229.6 636.9,227.3 641.5,225.1 646.0,223.1 650.5,221.1 655.0,219.4 659.6,217.7 664.1,216.2 668.6,214.9 673.1,213.7 677.6,212.6 682.2,211.6 686.7,210.8 691.2,210.1 695.7,209.5 700.3,209.0 704.8,208.5 709.3,208.2 713.8,207.9 718.4,207.6 722.9,207.4 727.4,207.3 731.9,207.2 736.5,207.1 741.0,207.0 745.5,206.9 750.0,206.9 754.6,206.8 759.1,206.8 763.6,206.8 768.1,206.8 772.7,206.8 777.2,206.8 781.7,206.8 786.2,206.8 790.7,206.7 795.3,206.7 799.8,206.7 804.3,206.7 808.8,206.7 813.4,206.7 817.9,206.7 822.4,206.7 826.9,206.7 831.5,206.7" class="ln" stroke="#3a2c58"/>
<polyline points="442.4,305.3 446.9,305.3 451.4,305.3 456.0,305.3 460.5,305.3 465.0,305.3 469.5,305.3 474.1,305.3 478.6,305.3 483.1,305.2 487.6,305.2 492.2,305.1 496.7,305.0 501.2,304.7 505.7,304.4 510.3,303.9 514.8,303.3 519.3,302.5 523.8,301.4 528.4,300.1 532.9,298.6 537.4,296.7 541.9,294.6 546.5,292.2 551.0,289.5 555.5,286.6 560.0,283.5 564.5,280.2 569.1,276.8 573.6,273.3 578.1,269.8 582.6,266.2 587.2,262.6 591.7,259.0 596.2,255.5 600.7,252.0 605.3,248.6 609.8,245.3 614.3,242.0 618.8,238.8 623.4,235.7 627.9,232.6 632.4,229.7 636.9,226.9 641.5,224.2 646.0,221.7 650.5,219.4 655.0,217.2 659.6,215.2 664.1,213.4 668.6,211.8 673.1,210.4 677.6,209.1 682.2,208.1 686.7,207.1 691.2,206.4 695.7,205.7 700.3,205.2 704.8,204.8 709.3,204.4 713.8,204.1 718.4,203.9 722.9,203.7 727.4,203.6 731.9,203.5 736.5,203.4 741.0,203.3 745.5,203.3 750.0,203.2 754.6,203.2 759.1,203.2 763.6,203.2 768.1,203.2 772.7,203.2 777.2,203.1 781.7,203.1 786.2,203.1 790.7,203.1 795.3,203.1 799.8,203.1 804.3,203.1 808.8,203.1 813.4,203.1 817.9,203.1 822.4,203.1 826.9,203.1 831.5,203.1" class="ho"/>
<polyline points="442.4,305.3 446.9,305.3 451.4,305.3 456.0,305.3 460.5,305.3 465.0,305.3 469.5,305.3 474.1,305.3 478.6,305.3 483.1,305.2 487.6,305.2 492.2,305.1 496.7,305.0 501.2,304.7 505.7,304.4 510.3,303.9 514.8,303.3 519.3,302.5 523.8,301.4 528.4,300.1 532.9,298.6 537.4,296.7 541.9,294.6 546.5,292.2 551.0,289.5 555.5,286.6 560.0,283.5 564.5,280.2 569.1,276.8 573.6,273.3 578.1,269.8 582.6,266.2 587.2,262.6 591.7,259.0 596.2,255.5 600.7,252.0 605.3,248.6 609.8,245.3 614.3,242.0 618.8,238.8 623.4,235.7 627.9,232.6 632.4,229.7 636.9,226.9 641.5,224.2 646.0,221.7 650.5,219.4 655.0,217.2 659.6,215.2 664.1,213.4 668.6,211.8 673.1,210.4 677.6,209.1 682.2,208.1 686.7,207.1 691.2,206.4 695.7,205.7 700.3,205.2 704.8,204.8 709.3,204.4 713.8,204.1 718.4,203.9 722.9,203.7 727.4,203.6 731.9,203.5 736.5,203.4 741.0,203.3 745.5,203.3 750.0,203.2 754.6,203.2 759.1,203.2 763.6,203.2 768.1,203.2 772.7,203.2 777.2,203.1 781.7,203.1 786.2,203.1 790.7,203.1 795.3,203.1 799.8,203.1 804.3,203.1 808.8,203.1 813.4,203.1 817.9,203.1 822.4,203.1 826.9,203.1 831.5,203.1" class="ln" stroke="#312142"/>
<polyline points="442.4,305.3 446.9,305.3 451.4,305.3 456.0,305.3 460.5,305.3 465.0,305.3 469.5,305.3 474.1,305.3 478.6,305.3 483.1,305.2 487.6,305.2 492.2,305.1 496.7,305.0 501.2,304.7 505.7,304.4 510.3,304.0 514.8,303.4 519.3,302.7 523.8,301.8 528.4,300.6 532.9,299.2 537.4,297.6 541.9,295.6 546.5,293.5 551.0,291.1 555.5,288.4 560.0,285.5 564.5,282.5 569.1,279.3 573.6,275.9 578.1,272.5 582.6,269.0 587.2,265.5 591.7,262.0 596.2,258.6 600.7,255.2 605.3,251.9 609.8,248.7 614.3,245.6 618.8,242.6 623.4,239.7 627.9,236.9 632.4,234.3 636.9,231.7 641.5,229.3 646.0,226.9 650.5,224.7 655.0,222.7 659.6,220.7 664.1,218.9 668.6,217.3 673.1,215.8 677.6,214.5 682.2,213.3 686.7,212.2 691.2,211.3 695.7,210.5 700.3,209.8 704.8,209.3 709.3,208.8 713.8,208.4 718.4,208.0 722.9,207.8 727.4,207.6 731.9,207.4 736.5,207.2 741.0,207.1 745.5,207.0 750.0,206.9 754.6,206.9 759.1,206.8 763.6,206.8 768.1,206.8 772.7,206.8 777.2,206.7 781.7,206.7 786.2,206.7 790.7,206.7 795.3,206.7 799.8,206.7 804.3,206.7 808.8,206.7 813.4,206.7 817.9,206.7 822.4,206.7 826.9,206.7 831.5,206.7" class="ho"/>
<polyline points="442.4,305.3 446.9,305.3 451.4,305.3 456.0,305.3 460.5,305.3 465.0,305.3 469.5,305.3 474.1,305.3 478.6,305.3 483.1,305.2 487.6,305.2 492.2,305.1 496.7,305.0 501.2,304.7 505.7,304.4 510.3,304.0 514.8,303.4 519.3,302.7 523.8,301.8 528.4,300.6 532.9,299.2 537.4,297.6 541.9,295.6 546.5,293.5 551.0,291.1 555.5,288.4 560.0,285.5 564.5,282.5 569.1,279.3 573.6,275.9 578.1,272.5 582.6,269.0 587.2,265.5 591.7,262.0 596.2,258.6 600.7,255.2 605.3,251.9 609.8,248.7 614.3,245.6 618.8,242.6 623.4,239.7 627.9,236.9 632.4,234.3 636.9,231.7 641.5,229.3 646.0,226.9 650.5,224.7 655.0,222.7 659.6,220.7 664.1,218.9 668.6,217.3 673.1,215.8 677.6,214.5 682.2,213.3 686.7,212.2 691.2,211.3 695.7,210.5 700.3,209.8 704.8,209.3 709.3,208.8 713.8,208.4 718.4,208.0 722.9,207.8 727.4,207.6 731.9,207.4 736.5,207.2 741.0,207.1 745.5,207.0 750.0,206.9 754.6,206.9 759.1,206.8 763.6,206.8 768.1,206.8 772.7,206.8 777.2,206.7 781.7,206.7 786.2,206.7 790.7,206.7 795.3,206.7 799.8,206.7 804.3,206.7 808.8,206.7 813.4,206.7 817.9,206.7 822.4,206.7 826.9,206.7 831.5,206.7" class="ln" stroke="#26172b"/>
<polyline points="442.4,305.3 446.9,305.3 451.4,305.3 456.0,305.3 460.5,305.3 465.0,305.3 469.5,305.3 474.1,305.3 478.6,305.3 483.1,305.2 487.6,305.2 492.2,305.1 496.7,305.0 501.2,304.7 505.7,304.5 510.3,304.1 514.8,303.5 519.3,302.8 523.8,301.9 528.4,300.8 532.9,299.5 537.4,298.0 541.9,296.2 546.5,294.2 551.0,291.9 555.5,289.4 560.0,286.7 564.5,283.8 569.1,280.8 573.6,277.6 578.1,274.3 582.6,270.9 587.2,267.5 591.7,264.1 596.2,260.7 600.7,257.4 605.3,254.1 609.8,250.9 614.3,247.8 618.8,244.7 623.4,241.8 627.9,239.0 632.4,236.3 636.9,233.7 641.5,231.2 646.0,228.8 650.5,226.6 655.0,224.5 659.6,222.6 664.1,220.8 668.6,219.2 673.1,217.7 677.6,216.4 682.2,215.2 686.7,214.2 691.2,213.3 695.7,212.5 700.3,211.9 704.8,211.3 709.3,210.8 713.8,210.4 718.4,210.1 722.9,209.8 727.4,209.6 731.9,209.4 736.5,209.2 741.0,209.1 745.5,209.0 750.0,208.9 754.6,208.8 759.1,208.8 763.6,208.7 768.1,208.7 772.7,208.6 777.2,208.6 781.7,208.6 786.2,208.5 790.7,208.5 795.3,208.5 799.8,208.5 804.3,208.5 808.8,208.5 813.4,208.5 817.9,208.5 822.4,208.5 826.9,208.5 831.5,208.5" class="ho"/>
<polyline points="442.4,305.3 446.9,305.3 451.4,305.3 456.0,305.3 460.5,305.3 465.0,305.3 469.5,305.3 474.1,305.3 478.6,305.3 483.1,305.2 487.6,305.2 492.2,305.1 496.7,305.0 501.2,304.7 505.7,304.5 510.3,304.1 514.8,303.5 519.3,302.8 523.8,301.9 528.4,300.8 532.9,299.5 537.4,298.0 541.9,296.2 546.5,294.2 551.0,291.9 555.5,289.4 560.0,286.7 564.5,283.8 569.1,280.8 573.6,277.6 578.1,274.3 582.6,270.9 587.2,267.5 591.7,264.1 596.2,260.7 600.7,257.4 605.3,254.1 609.8,250.9 614.3,247.8 618.8,244.7 623.4,241.8 627.9,239.0 632.4,236.3 636.9,233.7 641.5,231.2 646.0,228.8 650.5,226.6 655.0,224.5 659.6,222.6 664.1,220.8 668.6,219.2 673.1,217.7 677.6,216.4 682.2,215.2 686.7,214.2 691.2,213.3 695.7,212.5 700.3,211.9 704.8,211.3 709.3,210.8 713.8,210.4 718.4,210.1 722.9,209.8 727.4,209.6 731.9,209.4 736.5,209.2 741.0,209.1 745.5,209.0 750.0,208.9 754.6,208.8 759.1,208.8 763.6,208.7 768.1,208.7 772.7,208.6 777.2,208.6 781.7,208.6 786.2,208.5 790.7,208.5 795.3,208.5 799.8,208.5 804.3,208.5 808.8,208.5 813.4,208.5 817.9,208.5 822.4,208.5 826.9,208.5 831.5,208.5" class="ln" stroke="#190e18"/>
<text x="636.9" y="341.0" class="al" text-anchor="middle" textLength="71" lengthAdjust="spacingAndGlyphs">Age of women</text>
<text x="36.4" y="372.8" class="pt" textLength="94" lengthAdjust="spacingAndGlyphs">United States</text>
<line x1="36.4" x2="425.5" y1="475.0" y2="475.0" class="gl"/>
<line x1="36.4" x2="425.5" y1="436.7" y2="436.7" class="gl"/>
<line x1="36.4" x2="425.5" y1="398.3" y2="398.3" class="gl"/>
<text x="31.4" y="517.6" class="tk" text-anchor="end">0</text>
<text x="31.4" y="479.2" class="tk" text-anchor="end">1</text>
<text x="31.4" y="440.9" class="tk" text-anchor="end">2</text>
<text x="31.4" y="402.5" class="tk" text-anchor="end">3</text>
<line x1="36.4" x2="425.5" y1="513.4" y2="513.4" class="ax"/>
<line x1="36.4" x2="36.4" y1="513.4" y2="518.4" class="ax"/>
<text x="37.0" y="529.4" class="tk">12</text>
<line x1="108.8" x2="108.8" y1="513.4" y2="518.4" class="ax"/>
<text x="108.8" y="529.4" class="tk" text-anchor="middle">20</text>
<line x1="199.3" x2="199.3" y1="513.4" y2="518.4" class="ax"/>
<text x="199.3" y="529.4" class="tk" text-anchor="middle">30</text>
<line x1="289.7" x2="289.7" y1="513.4" y2="518.4" class="ax"/>
<text x="289.7" y="529.4" class="tk" text-anchor="middle">40</text>
<line x1="380.2" x2="380.2" y1="513.4" y2="518.4" class="ax"/>
<text x="380.2" y="529.4" class="tk" text-anchor="middle">50</text>
<line x1="425.5" x2="425.5" y1="513.4" y2="518.4" class="ax"/>
<text x="425.3" y="529.4" class="tk" text-anchor="end">55</text>
<polyline points="36.4,513.4 40.9,513.4 45.4,513.4" class="ho"/>
<polyline points="36.4,513.4 40.9,513.4 45.4,513.4" class="ln" stroke="#c4eacf"/>
<polyline points="36.4,513.4 40.9,513.4 45.4,513.4 50.0,513.4 54.5,513.4 59.0,513.4 63.5,513.4 68.1,513.3 72.6,513.3 77.1,513.3 81.6,513.2 86.2,513.1 90.7,512.9" class="ho"/>
<polyline points="36.4,513.4 40.9,513.4 45.4,513.4 50.0,513.4 54.5,513.4 59.0,513.4 63.5,513.4 68.1,513.3 72.6,513.3 77.1,513.3 81.6,513.2 86.2,513.1 90.7,512.9" class="ln" stroke="#a6e1bc"/>
<polyline points="36.4,513.4 40.9,513.4 45.4,513.4 50.0,513.4 54.5,513.4 59.0,513.4 63.5,513.4 68.1,513.3 72.6,513.3 77.1,513.2 81.6,513.1 86.2,512.9 90.7,512.6 95.2,512.3 99.7,511.9 104.3,511.4 108.8,510.7 113.3,509.9 117.8,509.0 122.4,508.0 126.9,506.8 131.4,505.5 135.9,504.0" class="ho"/>
<polyline points="36.4,513.4 40.9,513.4 45.4,513.4 50.0,513.4 54.5,513.4 59.0,513.4 63.5,513.4 68.1,513.3 72.6,513.3 77.1,513.2 81.6,513.1 86.2,512.9 90.7,512.6 95.2,512.3 99.7,511.9 104.3,511.4 108.8,510.7 113.3,509.9 117.8,509.0 122.4,508.0 126.9,506.8 131.4,505.5 135.9,504.0" class="ln" stroke="#7fd7af"/>
<polyline points="36.4,513.4 40.9,513.4 45.4,513.4 50.0,513.4 54.5,513.4 59.0,513.4 63.5,513.4 68.1,513.3 72.6,513.2 77.1,513.0 81.6,512.8 86.2,512.4 90.7,512.0 95.2,511.4 99.7,510.6 104.3,509.7 108.8,508.6 113.3,507.5 117.8,506.1 122.4,504.7 126.9,503.2 131.4,501.6 135.9,500.0 140.5,498.4 145.0,496.7 149.5,495.0 154.0,493.4 158.5,491.8 163.1,490.3 167.6,488.8 172.1,487.4 176.6,486.1 181.2,484.9" class="ho"/>
<polyline points="36.4,513.4 40.9,513.4 45.4,513.4 50.0,513.4 54.5,513.4 59.0,513.4 63.5,513.4 68.1,513.3 72.6,513.2 77.1,513.0 81.6,512.8 86.2,512.4 90.7,512.0 95.2,511.4 99.7,510.6 104.3,509.7 108.8,508.6 113.3,507.5 117.8,506.1 122.4,504.7 126.9,503.2 131.4,501.6 135.9,500.0 140.5,498.4 145.0,496.7 149.5,495.0 154.0,493.4 158.5,491.8 163.1,490.3 167.6,488.8 172.1,487.4 176.6,486.1 181.2,484.9" class="ln" stroke="#5bcdad"/>
<polyline points="36.4,513.4 40.9,513.4 45.4,513.4 50.0,513.4 54.5,513.4 59.0,513.4 63.5,513.3 68.1,513.2 72.6,513.1 77.1,512.8 81.6,512.5 86.2,512.0 90.7,511.3 95.2,510.5 99.7,509.4 104.3,508.2 108.8,506.9 113.3,505.3 117.8,503.7 122.4,502.0 126.9,500.3 131.4,498.5 135.9,496.7 140.5,494.9 145.0,493.1 149.5,491.3 154.0,489.5 158.5,487.8 163.1,486.0 167.6,484.2 172.1,482.3 176.6,480.5 181.2,478.6 185.7,476.7 190.2,474.8 194.7,472.9 199.3,470.9 203.8,469.0 208.3,467.1 212.8,465.3 217.4,463.5 221.9,461.8 226.4,460.1" class="ho"/>
<polyline points="36.4,513.4 40.9,513.4 45.4,513.4 50.0,513.4 54.5,513.4 59.0,513.4 63.5,513.3 68.1,513.2 72.6,513.1 77.1,512.8 81.6,512.5 86.2,512.0 90.7,511.3 95.2,510.5 99.7,509.4 104.3,508.2 108.8,506.9 113.3,505.3 117.8,503.7 122.4,502.0 126.9,500.3 131.4,498.5 135.9,496.7 140.5,494.9 145.0,493.1 149.5,491.3 154.0,489.5 158.5,487.8 163.1,486.0 167.6,484.2 172.1,482.3 176.6,480.5 181.2,478.6 185.7,476.7 190.2,474.8 194.7,472.9 199.3,470.9 203.8,469.0 208.3,467.1 212.8,465.3 217.4,463.5 221.9,461.8 226.4,460.1" class="ln" stroke="#46bead"/>
<polyline points="36.4,513.4 40.9,513.4 45.4,513.4 50.0,513.4 54.5,513.4 59.0,513.4 63.5,513.3 68.1,513.2 72.6,513.1 77.1,512.8 81.6,512.4 86.2,511.9 90.7,511.1 95.2,510.2 99.7,509.0 104.3,507.7 108.8,506.1 113.3,504.3 117.8,502.4 122.4,500.3 126.9,498.2 131.4,496.1 135.9,493.9 140.5,491.8 145.0,489.7 149.5,487.7 154.0,485.7 158.5,483.8 163.1,481.9 167.6,480.0 172.1,478.0 176.6,476.1 181.2,474.1 185.7,472.1 190.2,470.0 194.7,467.8 199.3,465.5 203.8,463.3 208.3,461.0 212.8,458.7 217.4,456.4 221.9,454.2 226.4,452.1 230.9,450.0 235.5,448.1 240.0,446.3 244.5,444.7 249.0,443.2 253.6,441.8 258.1,440.6 262.6,439.6 267.1,438.6 271.6,437.8" class="ho"/>
<polyline points="36.4,513.4 40.9,513.4 45.4,513.4 50.0,513.4 54.5,513.4 59.0,513.4 63.5,513.3 68.1,513.2 72.6,513.1 77.1,512.8 81.6,512.4 86.2,511.9 90.7,511.1 95.2,510.2 99.7,509.0 104.3,507.7 108.8,506.1 113.3,504.3 117.8,502.4 122.4,500.3 126.9,498.2 131.4,496.1 135.9,493.9 140.5,491.8 145.0,489.7 149.5,487.7 154.0,485.7 158.5,483.8 163.1,481.9 167.6,480.0 172.1,478.0 176.6,476.1 181.2,474.1 185.7,472.1 190.2,470.0 194.7,467.8 199.3,465.5 203.8,463.3 208.3,461.0 212.8,458.7 217.4,456.4 221.9,454.2 226.4,452.1 230.9,450.0 235.5,448.1 240.0,446.3 244.5,444.7 249.0,443.2 253.6,441.8 258.1,440.6 262.6,439.6 267.1,438.6 271.6,437.8" class="ln" stroke="#3bafad"/>
<polyline points="36.4,513.4 40.9,513.4 45.4,513.4 50.0,513.4 54.5,513.4 59.0,513.3 63.5,513.3 68.1,513.2 72.6,513.0 77.1,512.7 81.6,512.2 86.2,511.6 90.7,510.7 95.2,509.7 99.7,508.4 104.3,507.0 108.8,505.3 113.3,503.5 117.8,501.5 122.4,499.4 126.9,497.3 131.4,495.1 135.9,492.9 140.5,490.6 145.0,488.4 149.5,486.2 154.0,484.0 158.5,481.8 163.1,479.6 167.6,477.3 172.1,475.0 176.6,472.7 181.2,470.3 185.7,467.9 190.2,465.4 194.7,463.0 199.3,460.5 203.8,458.0 208.3,455.6 212.8,453.3 217.4,451.0 221.9,448.8 226.4,446.7 230.9,444.7 235.5,442.8 240.0,441.1 244.5,439.6 249.0,438.2 253.6,436.9 258.1,435.7 262.6,434.7 267.1,433.8 271.6,433.0 276.2,432.4 280.7,431.8 285.2,431.3 289.7,430.9 294.3,430.5 298.8,430.2 303.3,429.9 307.8,429.7 312.4,429.6 316.9,429.4" class="ho"/>
<polyline points="36.4,513.4 40.9,513.4 45.4,513.4 50.0,513.4 54.5,513.4 59.0,513.3 63.5,513.3 68.1,513.2 72.6,513.0 77.1,512.7 81.6,512.2 86.2,511.6 90.7,510.7 95.2,509.7 99.7,508.4 104.3,507.0 108.8,505.3 113.3,503.5 117.8,501.5 122.4,499.4 126.9,497.3 131.4,495.1 135.9,492.9 140.5,490.6 145.0,488.4 149.5,486.2 154.0,484.0 158.5,481.8 163.1,479.6 167.6,477.3 172.1,475.0 176.6,472.7 181.2,470.3 185.7,467.9 190.2,465.4 194.7,463.0 199.3,460.5 203.8,458.0 208.3,455.6 212.8,453.3 217.4,451.0 221.9,448.8 226.4,446.7 230.9,444.7 235.5,442.8 240.0,441.1 244.5,439.6 249.0,438.2 253.6,436.9 258.1,435.7 262.6,434.7 267.1,433.8 271.6,433.0 276.2,432.4 280.7,431.8 285.2,431.3 289.7,430.9 294.3,430.5 298.8,430.2 303.3,429.9 307.8,429.7 312.4,429.6 316.9,429.4" class="ln" stroke="#35a0ab"/>
<polyline points="36.4,513.4 40.9,513.4 45.4,513.4 50.0,513.4 54.5,513.4 59.0,513.3 63.5,513.2 68.1,513.0 72.6,512.8 77.1,512.4 81.6,511.8 86.2,511.1 90.7,510.2 95.2,509.0 99.7,507.7 104.3,506.2 108.8,504.5 113.3,502.7 117.8,500.8 122.4,498.8 126.9,496.8 131.4,494.7 135.9,492.6 140.5,490.6 145.0,488.5 149.5,486.5 154.0,484.5 158.5,482.4 163.1,480.3 167.6,478.1 172.1,475.9 176.6,473.6 181.2,471.3 185.7,468.8 190.2,466.3 194.7,463.8 199.3,461.2 203.8,458.6 208.3,456.1 212.8,453.5 217.4,451.1 221.9,448.7 226.4,446.5 230.9,444.4 235.5,442.4 240.0,440.6 244.5,438.9 249.0,437.4 253.6,436.0 258.1,434.8 262.6,433.7 267.1,432.8 271.6,432.0 276.2,431.3 280.7,430.7 285.2,430.2 289.7,429.8 294.3,429.4 298.8,429.1 303.3,428.9 307.8,428.7 312.4,428.5 316.9,428.4 321.4,428.3 325.9,428.2 330.5,428.2 335.0,428.1 339.5,428.1 344.0,428.0 348.6,428.0 353.1,428.0 357.6,428.0 362.1,428.0" class="ho"/>
<polyline points="36.4,513.4 40.9,513.4 45.4,513.4 50.0,513.4 54.5,513.4 59.0,513.3 63.5,513.2 68.1,513.0 72.6,512.8 77.1,512.4 81.6,511.8 86.2,511.1 90.7,510.2 95.2,509.0 99.7,507.7 104.3,506.2 108.8,504.5 113.3,502.7 117.8,500.8 122.4,498.8 126.9,496.8 131.4,494.7 135.9,492.6 140.5,490.6 145.0,488.5 149.5,486.5 154.0,484.5 158.5,482.4 163.1,480.3 167.6,478.1 172.1,475.9 176.6,473.6 181.2,471.3 185.7,468.8 190.2,466.3 194.7,463.8 199.3,461.2 203.8,458.6 208.3,456.1 212.8,453.5 217.4,451.1 221.9,448.7 226.4,446.5 230.9,444.4 235.5,442.4 240.0,440.6 244.5,438.9 249.0,437.4 253.6,436.0 258.1,434.8 262.6,433.7 267.1,432.8 271.6,432.0 276.2,431.3 280.7,430.7 285.2,430.2 289.7,429.8 294.3,429.4 298.8,429.1 303.3,428.9 307.8,428.7 312.4,428.5 316.9,428.4 321.4,428.3 325.9,428.2 330.5,428.2 335.0,428.1 339.5,428.1 344.0,428.0 348.6,428.0 353.1,428.0 357.6,428.0 362.1,428.0" class="ln" stroke="#3491a8"/>
<polyline points="36.4,513.4 40.9,513.4 45.4,513.4 50.0,513.4 54.5,513.4 59.0,513.3 63.5,513.2 68.1,513.1 72.6,512.8 77.1,512.5 81.6,511.9 86.2,511.2 90.7,510.4 95.2,509.3 99.7,507.9 104.3,506.4 108.8,504.7 113.3,502.9 117.8,500.9 122.4,498.8 126.9,496.7 131.4,494.5 135.9,492.3 140.5,490.1 145.0,487.9 149.5,485.8 154.0,483.7 158.5,481.6 163.1,479.5 167.6,477.4 172.1,475.2 176.6,473.1 181.2,470.9 185.7,468.8 190.2,466.5 194.7,464.3 199.3,462.1 203.8,459.9 208.3,457.7 212.8,455.5 217.4,453.4 221.9,451.3 226.4,449.4 230.9,447.5 235.5,445.7 240.0,444.1 244.5,442.6 249.0,441.2 253.6,439.9 258.1,438.7 262.6,437.7 267.1,436.7 271.6,435.9 276.2,435.2 280.7,434.5 285.2,434.0 289.7,433.5 294.3,433.1 298.8,432.8 303.3,432.5 307.8,432.2 312.4,432.0 316.9,431.9 321.4,431.7 325.9,431.6 330.5,431.5 335.0,431.4 339.5,431.4 344.0,431.3 348.6,431.3 353.1,431.3 357.6,431.2 362.1,431.2 366.7,431.2 371.2,431.2 375.7,431.2 380.2,431.2 384.7,431.2 389.3,431.2 393.8,431.2 398.3,431.2 402.8,431.2 407.4,431.2" class="ho"/>
<polyline points="36.4,513.4 40.9,513.4 45.4,513.4 50.0,513.4 54.5,513.4 59.0,513.3 63.5,513.2 68.1,513.1 72.6,512.8 77.1,512.5 81.6,511.9 86.2,511.2 90.7,510.4 95.2,509.3 99.7,507.9 104.3,506.4 108.8,504.7 113.3,502.9 117.8,500.9 122.4,498.8 126.9,496.7 131.4,494.5 135.9,492.3 140.5,490.1 145.0,487.9 149.5,485.8 154.0,483.7 158.5,481.6 163.1,479.5 167.6,477.4 172.1,475.2 176.6,473.1 181.2,470.9 185.7,468.8 190.2,466.5 194.7,464.3 199.3,462.1 203.8,459.9 208.3,457.7 212.8,455.5 217.4,453.4 221.9,451.3 226.4,449.4 230.9,447.5 235.5,445.7 240.0,444.1 244.5,442.6 249.0,441.2 253.6,439.9 258.1,438.7 262.6,437.7 267.1,436.7 271.6,435.9 276.2,435.2 280.7,434.5 285.2,434.0 289.7,433.5 294.3,433.1 298.8,432.8 303.3,432.5 307.8,432.2 312.4,432.0 316.9,431.9 321.4,431.7 325.9,431.6 330.5,431.5 335.0,431.4 339.5,431.4 344.0,431.3 348.6,431.3 353.1,431.3 357.6,431.2 362.1,431.2 366.7,431.2 371.2,431.2 375.7,431.2 380.2,431.2 384.7,431.2 389.3,431.2 393.8,431.2 398.3,431.2 402.8,431.2 407.4,431.2" class="ln" stroke="#3482a4"/>
<polyline points="36.4,513.4 40.9,513.4 45.4,513.4 50.0,513.4 54.5,513.4 59.0,513.3 63.5,513.3 68.1,513.1 72.6,512.9 77.1,512.6 81.6,512.1 86.2,511.4 90.7,510.5 95.2,509.4 99.7,508.2 104.3,506.6 108.8,504.9 113.3,503.1 117.8,501.0 122.4,498.9 126.9,496.6 131.4,494.4 135.9,492.0 140.5,489.7 145.0,487.4 149.5,485.1 154.0,482.8 158.5,480.6 163.1,478.4 167.6,476.2 172.1,474.0 176.6,471.9 181.2,469.7 185.7,467.6 190.2,465.5 194.7,463.4 199.3,461.3 203.8,459.2 208.3,457.2 212.8,455.3 217.4,453.3 221.9,451.5 226.4,449.7 230.9,448.1 235.5,446.5 240.0,445.1 244.5,443.7 249.0,442.5 253.6,441.4 258.1,440.3 262.6,439.4 267.1,438.6 271.6,437.9 276.2,437.3 280.7,436.7 285.2,436.2 289.7,435.8 294.3,435.5 298.8,435.2 303.3,434.9 307.8,434.7 312.4,434.5 316.9,434.4 321.4,434.3 325.9,434.2 330.5,434.1 335.0,434.0 339.5,434.0 344.0,433.9 348.6,433.9 353.1,433.9 357.6,433.8 362.1,433.8 366.7,433.8 371.2,433.8 375.7,433.8 380.2,433.8 384.7,433.8 389.3,433.8 393.8,433.8 398.3,433.8 402.8,433.8 407.4,433.8 411.9,433.8 416.4,433.8 420.9,433.8 425.5,433.8" class="ho"/>
<polyline points="36.4,513.4 40.9,513.4 45.4,513.4 50.0,513.4 54.5,513.4 59.0,513.3 63.5,513.3 68.1,513.1 72.6,512.9 77.1,512.6 81.6,512.1 86.2,511.4 90.7,510.5 95.2,509.4 99.7,508.2 104.3,506.6 108.8,504.9 113.3,503.1 117.8,501.0 122.4,498.9 126.9,496.6 131.4,494.4 135.9,492.0 140.5,489.7 145.0,487.4 149.5,485.1 154.0,482.8 158.5,480.6 163.1,478.4 167.6,476.2 172.1,474.0 176.6,471.9 181.2,469.7 185.7,467.6 190.2,465.5 194.7,463.4 199.3,461.3 203.8,459.2 208.3,457.2 212.8,455.3 217.4,453.3 221.9,451.5 226.4,449.7 230.9,448.1 235.5,446.5 240.0,445.1 244.5,443.7 249.0,442.5 253.6,441.4 258.1,440.3 262.6,439.4 267.1,438.6 271.6,437.9 276.2,437.3 280.7,436.7 285.2,436.2 289.7,435.8 294.3,435.5 298.8,435.2 303.3,434.9 307.8,434.7 312.4,434.5 316.9,434.4 321.4,434.3 325.9,434.2 330.5,434.1 335.0,434.0 339.5,434.0 344.0,433.9 348.6,433.9 353.1,433.9 357.6,433.8 362.1,433.8 366.7,433.8 371.2,433.8 375.7,433.8 380.2,433.8 384.7,433.8 389.3,433.8 393.8,433.8 398.3,433.8 402.8,433.8 407.4,433.8 411.9,433.8 416.4,433.8 420.9,433.8 425.5,433.8" class="ln" stroke="#3573a1"/>
<polyline points="36.4,513.4 40.9,513.4 45.4,513.4 50.0,513.4 54.5,513.4 59.0,513.3 63.5,513.3 68.1,513.1 72.6,512.9 77.1,512.5 81.6,512.0 86.2,511.3 90.7,510.4 95.2,509.2 99.7,507.8 104.3,506.2 108.8,504.4 113.3,502.3 117.8,500.2 122.4,497.9 126.9,495.6 131.4,493.3 135.9,490.9 140.5,488.5 145.0,486.2 149.5,483.9 154.0,481.6 158.5,479.4 163.1,477.2 167.6,475.0 172.1,472.9 176.6,470.8 181.2,468.6 185.7,466.6 190.2,464.5 194.7,462.4 199.3,460.4 203.8,458.5 208.3,456.6 212.8,454.7 217.4,452.9 221.9,451.2 226.4,449.6 230.9,448.1 235.5,446.7 240.0,445.5 244.5,444.3 249.0,443.2 253.6,442.2 258.1,441.3 262.6,440.6 267.1,439.9 271.6,439.2 276.2,438.7 280.7,438.2 285.2,437.8 289.7,437.5 294.3,437.2 298.8,437.0 303.3,436.7 307.8,436.6 312.4,436.4 316.9,436.3 321.4,436.2 325.9,436.1 330.5,436.0 335.0,436.0 339.5,435.9 344.0,435.9 348.6,435.9 353.1,435.9 357.6,435.8 362.1,435.8 366.7,435.8 371.2,435.8 375.7,435.8 380.2,435.8 384.7,435.8 389.3,435.8 393.8,435.8 398.3,435.8 402.8,435.8 407.4,435.8 411.9,435.8 416.4,435.8 420.9,435.8 425.5,435.8" class="ho"/>
<polyline points="36.4,513.4 40.9,513.4 45.4,513.4 50.0,513.4 54.5,513.4 59.0,513.3 63.5,513.3 68.1,513.1 72.6,512.9 77.1,512.5 81.6,512.0 86.2,511.3 90.7,510.4 95.2,509.2 99.7,507.8 104.3,506.2 108.8,504.4 113.3,502.3 117.8,500.2 122.4,497.9 126.9,495.6 131.4,493.3 135.9,490.9 140.5,488.5 145.0,486.2 149.5,483.9 154.0,481.6 158.5,479.4 163.1,477.2 167.6,475.0 172.1,472.9 176.6,470.8 181.2,468.6 185.7,466.6 190.2,464.5 194.7,462.4 199.3,460.4 203.8,458.5 208.3,456.6 212.8,454.7 217.4,452.9 221.9,451.2 226.4,449.6 230.9,448.1 235.5,446.7 240.0,445.5 244.5,444.3 249.0,443.2 253.6,442.2 258.1,441.3 262.6,440.6 267.1,439.9 271.6,439.2 276.2,438.7 280.7,438.2 285.2,437.8 289.7,437.5 294.3,437.2 298.8,437.0 303.3,436.7 307.8,436.6 312.4,436.4 316.9,436.3 321.4,436.2 325.9,436.1 330.5,436.0 335.0,436.0 339.5,435.9 344.0,435.9 348.6,435.9 353.1,435.9 357.6,435.8 362.1,435.8 366.7,435.8 371.2,435.8 375.7,435.8 380.2,435.8 384.7,435.8 389.3,435.8 393.8,435.8 398.3,435.8 402.8,435.8 407.4,435.8 411.9,435.8 416.4,435.8 420.9,435.8 425.5,435.8" class="ln" stroke="#38639d"/>
<polyline points="36.4,513.4 40.9,513.4 45.4,513.4 50.0,513.4 54.5,513.4 59.0,513.3 63.5,513.3 68.1,513.1 72.6,512.9 77.1,512.5 81.6,511.9 86.2,511.0 90.7,510.0 95.2,508.6 99.7,507.0 104.3,505.1 108.8,503.0 113.3,500.8 117.8,498.4 122.4,496.0 126.9,493.5 131.4,491.1 135.9,488.7 140.5,486.3 145.0,484.0 149.5,481.8 154.0,479.6 158.5,477.4 163.1,475.3 167.6,473.2 172.1,471.1 176.6,469.0 181.2,467.0 185.7,464.9 190.2,462.8 194.7,460.8 199.3,458.9 203.8,456.9 208.3,455.1 212.8,453.3 217.4,451.6 221.9,450.0 226.4,448.5 230.9,447.2 235.5,445.9 240.0,444.7 244.5,443.7 249.0,442.7 253.6,441.9 258.1,441.1 262.6,440.5 267.1,439.9 271.6,439.4 276.2,438.9 280.7,438.6 285.2,438.2 289.7,438.0 294.3,437.7 298.8,437.5 303.3,437.4 307.8,437.2 312.4,437.1 316.9,437.0 321.4,437.0 325.9,436.9 330.5,436.9 335.0,436.8 339.5,436.8 344.0,436.8 348.6,436.7 353.1,436.7 357.6,436.7 362.1,436.7 366.7,436.7 371.2,436.7 375.7,436.7 380.2,436.7 384.7,436.7 389.3,436.7 393.8,436.7 398.3,436.7 402.8,436.7 407.4,436.7 411.9,436.7 416.4,436.7 420.9,436.6 425.5,436.6" class="ho"/>
<polyline points="36.4,513.4 40.9,513.4 45.4,513.4 50.0,513.4 54.5,513.4 59.0,513.3 63.5,513.3 68.1,513.1 72.6,512.9 77.1,512.5 81.6,511.9 86.2,511.0 90.7,510.0 95.2,508.6 99.7,507.0 104.3,505.1 108.8,503.0 113.3,500.8 117.8,498.4 122.4,496.0 126.9,493.5 131.4,491.1 135.9,488.7 140.5,486.3 145.0,484.0 149.5,481.8 154.0,479.6 158.5,477.4 163.1,475.3 167.6,473.2 172.1,471.1 176.6,469.0 181.2,467.0 185.7,464.9 190.2,462.8 194.7,460.8 199.3,458.9 203.8,456.9 208.3,455.1 212.8,453.3 217.4,451.6 221.9,450.0 226.4,448.5 230.9,447.2 235.5,445.9 240.0,444.7 244.5,443.7 249.0,442.7 253.6,441.9 258.1,441.1 262.6,440.5 267.1,439.9 271.6,439.4 276.2,438.9 280.7,438.6 285.2,438.2 289.7,438.0 294.3,437.7 298.8,437.5 303.3,437.4 307.8,437.2 312.4,437.1 316.9,437.0 321.4,437.0 325.9,436.9 330.5,436.9 335.0,436.8 339.5,436.8 344.0,436.8 348.6,436.7 353.1,436.7 357.6,436.7 362.1,436.7 366.7,436.7 371.2,436.7 375.7,436.7 380.2,436.7 384.7,436.7 389.3,436.7 393.8,436.7 398.3,436.7 402.8,436.7 407.4,436.7 411.9,436.7 416.4,436.7 420.9,436.6 425.5,436.6" class="ln" stroke="#3c5397"/>
<polyline points="36.4,513.4 40.9,513.4 45.4,513.4 50.0,513.4 54.5,513.4 59.0,513.3 63.5,513.2 68.1,513.1 72.6,512.8 77.1,512.3 81.6,511.7 86.2,510.8 90.7,509.6 95.2,508.1 99.7,506.3 104.3,504.2 108.8,501.9 113.3,499.4 117.8,496.7 122.4,494.0 126.9,491.2 131.4,488.4 135.9,485.7 140.5,483.1 145.0,480.6 149.5,478.2 154.0,475.9 158.5,473.8 163.1,471.7 167.6,469.7 172.1,467.8 176.6,465.8 181.2,464.0 185.7,462.1 190.2,460.2 194.7,458.4 199.3,456.5 203.8,454.7 208.3,453.0 212.8,451.3 217.4,449.6 221.9,448.1 226.4,446.6 230.9,445.2 235.5,444.0 240.0,442.8 244.5,441.8 249.0,440.8 253.6,440.0 258.1,439.3 262.6,438.6 267.1,438.1 271.6,437.6 276.2,437.3 280.7,436.9 285.2,436.7 289.7,436.4 294.3,436.3 298.8,436.1 303.3,436.0 307.8,435.9 312.4,435.8 316.9,435.8 321.4,435.7 325.9,435.7 330.5,435.6 335.0,435.6 339.5,435.6 344.0,435.6 348.6,435.6 353.1,435.6 357.6,435.6 362.1,435.6 366.7,435.6 371.2,435.6 375.7,435.6 380.2,435.6 384.7,435.6 389.3,435.6 393.8,435.6 398.3,435.6 402.8,435.6 407.4,435.6 411.9,435.6 416.4,435.6 420.9,435.6 425.5,435.6" class="ho"/>
<polyline points="36.4,513.4 40.9,513.4 45.4,513.4 50.0,513.4 54.5,513.4 59.0,513.3 63.5,513.2 68.1,513.1 72.6,512.8 77.1,512.3 81.6,511.7 86.2,510.8 90.7,509.6 95.2,508.1 99.7,506.3 104.3,504.2 108.8,501.9 113.3,499.4 117.8,496.7 122.4,494.0 126.9,491.2 131.4,488.4 135.9,485.7 140.5,483.1 145.0,480.6 149.5,478.2 154.0,475.9 158.5,473.8 163.1,471.7 167.6,469.7 172.1,467.8 176.6,465.8 181.2,464.0 185.7,462.1 190.2,460.2 194.7,458.4 199.3,456.5 203.8,454.7 208.3,453.0 212.8,451.3 217.4,449.6 221.9,448.1 226.4,446.6 230.9,445.2 235.5,444.0 240.0,442.8 244.5,441.8 249.0,440.8 253.6,440.0 258.1,439.3 262.6,438.6 267.1,438.1 271.6,437.6 276.2,437.3 280.7,436.9 285.2,436.7 289.7,436.4 294.3,436.3 298.8,436.1 303.3,436.0 307.8,435.9 312.4,435.8 316.9,435.8 321.4,435.7 325.9,435.7 330.5,435.6 335.0,435.6 339.5,435.6 344.0,435.6 348.6,435.6 353.1,435.6 357.6,435.6 362.1,435.6 366.7,435.6 371.2,435.6 375.7,435.6 380.2,435.6 384.7,435.6 389.3,435.6 393.8,435.6 398.3,435.6 402.8,435.6 407.4,435.6 411.9,435.6 416.4,435.6 420.9,435.6 425.5,435.6" class="ln" stroke="#414387"/>
<polyline points="36.4,513.4 40.9,513.4 45.4,513.4 50.0,513.4 54.5,513.4 59.0,513.3 63.5,513.2 68.1,513.1 72.6,512.8 77.1,512.3 81.6,511.6 86.2,510.6 90.7,509.3 95.2,507.6 99.7,505.5 104.3,503.1 108.8,500.3 113.3,497.1 117.8,493.7 122.4,490.1 126.9,486.3 131.4,482.5 135.9,478.7 140.5,475.0 145.0,471.4 149.5,468.0 154.0,464.8 158.5,461.8 163.1,459.0 167.6,456.4 172.1,454.0 176.6,451.7 181.2,449.7 185.7,447.7 190.2,445.8 194.7,444.1 199.3,442.4 203.8,440.8 208.3,439.2 212.8,437.8 217.4,436.4 221.9,435.1 226.4,433.9 230.9,432.8 235.5,431.8 240.0,430.8 244.5,430.0 249.0,429.3 253.6,428.7 258.1,428.1 262.6,427.6 267.1,427.3 271.6,426.9 276.2,426.7 280.7,426.4 285.2,426.3 289.7,426.1 294.3,426.0 298.8,425.9 303.3,425.9 307.8,425.8 312.4,425.8 316.9,425.7 321.4,425.7 325.9,425.7 330.5,425.7 335.0,425.7 339.5,425.7 344.0,425.7 348.6,425.6 353.1,425.6 357.6,425.6 362.1,425.6 366.7,425.6 371.2,425.6 375.7,425.6 380.2,425.6 384.7,425.6 389.3,425.6 393.8,425.6 398.3,425.6 402.8,425.6 407.4,425.6 411.9,425.6 416.4,425.6 420.9,425.6 425.5,425.6" class="ho"/>
<polyline points="36.4,513.4 40.9,513.4 45.4,513.4 50.0,513.4 54.5,513.4 59.0,513.3 63.5,513.2 68.1,513.1 72.6,512.8 77.1,512.3 81.6,511.6 86.2,510.6 90.7,509.3 95.2,507.6 99.7,505.5 104.3,503.1 108.8,500.3 113.3,497.1 117.8,493.7 122.4,490.1 126.9,486.3 131.4,482.5 135.9,478.7 140.5,475.0 145.0,471.4 149.5,468.0 154.0,464.8 158.5,461.8 163.1,459.0 167.6,456.4 172.1,454.0 176.6,451.7 181.2,449.7 185.7,447.7 190.2,445.8 194.7,444.1 199.3,442.4 203.8,440.8 208.3,439.2 212.8,437.8 217.4,436.4 221.9,435.1 226.4,433.9 230.9,432.8 235.5,431.8 240.0,430.8 244.5,430.0 249.0,429.3 253.6,428.7 258.1,428.1 262.6,427.6 267.1,427.3 271.6,426.9 276.2,426.7 280.7,426.4 285.2,426.3 289.7,426.1 294.3,426.0 298.8,425.9 303.3,425.9 307.8,425.8 312.4,425.8 316.9,425.7 321.4,425.7 325.9,425.7 330.5,425.7 335.0,425.7 339.5,425.7 344.0,425.7 348.6,425.6 353.1,425.6 357.6,425.6 362.1,425.6 366.7,425.6 371.2,425.6 375.7,425.6 380.2,425.6 384.7,425.6 389.3,425.6 393.8,425.6 398.3,425.6 402.8,425.6 407.4,425.6 411.9,425.6 416.4,425.6 420.9,425.6 425.5,425.6" class="ln" stroke="#3f3770"/>
<polyline points="36.4,513.4 40.9,513.4 45.4,513.4 50.0,513.4 54.5,513.4 59.0,513.3 63.5,513.2 68.1,512.9 72.6,512.5 77.1,511.9 81.6,510.9 86.2,509.5 90.7,507.7 95.2,505.3 99.7,502.5 104.3,499.2 108.8,495.5 113.3,491.4 117.8,487.0 122.4,482.4 126.9,477.8 131.4,473.1 135.9,468.4 140.5,463.9 145.0,459.5 149.5,455.2 154.0,451.2 158.5,447.3 163.1,443.7 167.6,440.3 172.1,437.1 176.6,434.2 181.2,431.4 185.7,428.9 190.2,426.5 194.7,424.4 199.3,422.4 203.8,420.6 208.3,419.0 212.8,417.5 217.4,416.2 221.9,415.0 226.4,413.9 230.9,413.0 235.5,412.1 240.0,411.4 244.5,410.7 249.0,410.1 253.6,409.6 258.1,409.1 262.6,408.7 267.1,408.4 271.6,408.1 276.2,407.8 280.7,407.6 285.2,407.4 289.7,407.2 294.3,407.1 298.8,407.0 303.3,406.9 307.8,406.8 312.4,406.7 316.9,406.6 321.4,406.6 325.9,406.5 330.5,406.5 335.0,406.4 339.5,406.4 344.0,406.4 348.6,406.4 353.1,406.4 357.6,406.3 362.1,406.3 366.7,406.3 371.2,406.3 375.7,406.3 380.2,406.3 384.7,406.3 389.3,406.3 393.8,406.3 398.3,406.3 402.8,406.3 407.4,406.3 411.9,406.3 416.4,406.3 420.9,406.3 425.5,406.3" class="ho"/>
<polyline points="36.4,513.4 40.9,513.4 45.4,513.4 50.0,513.4 54.5,513.4 59.0,513.3 63.5,513.2 68.1,512.9 72.6,512.5 77.1,511.9 81.6,510.9 86.2,509.5 90.7,507.7 95.2,505.3 99.7,502.5 104.3,499.2 108.8,495.5 113.3,491.4 117.8,487.0 122.4,482.4 126.9,477.8 131.4,473.1 135.9,468.4 140.5,463.9 145.0,459.5 149.5,455.2 154.0,451.2 158.5,447.3 163.1,443.7 167.6,440.3 172.1,437.1 176.6,434.2 181.2,431.4 185.7,428.9 190.2,426.5 194.7,424.4 199.3,422.4 203.8,420.6 208.3,419.0 212.8,417.5 217.4,416.2 221.9,415.0 226.4,413.9 230.9,413.0 235.5,412.1 240.0,411.4 244.5,410.7 249.0,410.1 253.6,409.6 258.1,409.1 262.6,408.7 267.1,408.4 271.6,408.1 276.2,407.8 280.7,407.6 285.2,407.4 289.7,407.2 294.3,407.1 298.8,407.0 303.3,406.9 307.8,406.8 312.4,406.7 316.9,406.6 321.4,406.6 325.9,406.5 330.5,406.5 335.0,406.4 339.5,406.4 344.0,406.4 348.6,406.4 353.1,406.4 357.6,406.3 362.1,406.3 366.7,406.3 371.2,406.3 375.7,406.3 380.2,406.3 384.7,406.3 389.3,406.3 393.8,406.3 398.3,406.3 402.8,406.3 407.4,406.3 411.9,406.3 416.4,406.3 420.9,406.3 425.5,406.3" class="ln" stroke="#3a2c58"/>
<polyline points="36.4,513.4 40.9,513.4 45.4,513.4 50.0,513.4 54.5,513.4 59.0,513.3 63.5,513.2 68.1,513.0 72.6,512.6 77.1,512.0 81.6,511.0 86.2,509.6 90.7,507.7 95.2,505.3 99.7,502.4 104.3,499.0 108.8,495.2 113.3,491.1 117.8,486.6 122.4,482.0 126.9,477.2 131.4,472.3 135.9,467.4 140.5,462.5 145.0,457.7 149.5,453.0 154.0,448.4 158.5,443.9 163.1,439.6 167.6,435.4 172.1,431.4 176.6,427.5 181.2,423.9 185.7,420.5 190.2,417.2 194.7,414.3 199.3,411.5 203.8,408.9 208.3,406.6 212.8,404.5 217.4,402.6 221.9,400.9 226.4,399.3 230.9,398.0 235.5,396.8 240.0,395.7 244.5,394.8 249.0,394.0 253.6,393.3 258.1,392.7 262.6,392.2 267.1,391.8 271.6,391.4 276.2,391.1 280.7,390.8 285.2,390.6 289.7,390.4 294.3,390.3 298.8,390.2 303.3,390.1 307.8,390.0 312.4,389.9 316.9,389.8 321.4,389.8 325.9,389.8 330.5,389.7 335.0,389.7 339.5,389.7 344.0,389.7 348.6,389.7 353.1,389.6 357.6,389.6 362.1,389.6 366.7,389.6 371.2,389.6 375.7,389.6 380.2,389.6 384.7,389.6 389.3,389.6 393.8,389.6 398.3,389.6 402.8,389.6 407.4,389.6 411.9,389.6 416.4,389.6 420.9,389.6 425.5,389.6" class="ho"/>
<polyline points="36.4,513.4 40.9,513.4 45.4,513.4 50.0,513.4 54.5,513.4 59.0,513.3 63.5,513.2 68.1,513.0 72.6,512.6 77.1,512.0 81.6,511.0 86.2,509.6 90.7,507.7 95.2,505.3 99.7,502.4 104.3,499.0 108.8,495.2 113.3,491.1 117.8,486.6 122.4,482.0 126.9,477.2 131.4,472.3 135.9,467.4 140.5,462.5 145.0,457.7 149.5,453.0 154.0,448.4 158.5,443.9 163.1,439.6 167.6,435.4 172.1,431.4 176.6,427.5 181.2,423.9 185.7,420.5 190.2,417.2 194.7,414.3 199.3,411.5 203.8,408.9 208.3,406.6 212.8,404.5 217.4,402.6 221.9,400.9 226.4,399.3 230.9,398.0 235.5,396.8 240.0,395.7 244.5,394.8 249.0,394.0 253.6,393.3 258.1,392.7 262.6,392.2 267.1,391.8 271.6,391.4 276.2,391.1 280.7,390.8 285.2,390.6 289.7,390.4 294.3,390.3 298.8,390.2 303.3,390.1 307.8,390.0 312.4,389.9 316.9,389.8 321.4,389.8 325.9,389.8 330.5,389.7 335.0,389.7 339.5,389.7 344.0,389.7 348.6,389.7 353.1,389.6 357.6,389.6 362.1,389.6 366.7,389.6 371.2,389.6 375.7,389.6 380.2,389.6 384.7,389.6 389.3,389.6 393.8,389.6 398.3,389.6 402.8,389.6 407.4,389.6 411.9,389.6 416.4,389.6 420.9,389.6 425.5,389.6" class="ln" stroke="#312142"/>
<polyline points="36.4,513.4 40.9,513.4 45.4,513.4 50.0,513.4 54.5,513.4 59.0,513.3 63.5,513.2 68.1,513.0 72.6,512.7 77.1,512.2 81.6,511.5 86.2,510.6 90.7,509.2 95.2,507.5 99.7,505.4 104.3,502.9 108.8,499.9 113.3,496.5 117.8,492.8 122.4,488.7 126.9,484.4 131.4,479.9 135.9,475.2 140.5,470.5 145.0,465.8 149.5,461.2 154.0,456.7 158.5,452.3 163.1,448.0 167.6,444.0 172.1,440.0 176.6,436.2 181.2,432.6 185.7,429.0 190.2,425.6 194.7,422.3 199.3,419.0 203.8,415.9 208.3,413.0 212.8,410.2 217.4,407.6 221.9,405.1 226.4,402.9 230.9,400.9 235.5,399.1 240.0,397.5 244.5,396.1 249.0,394.9 253.6,393.9 258.1,393.1 262.6,392.4 267.1,391.9 271.6,391.4 276.2,391.1 280.7,390.8 285.2,390.6 289.7,390.4 294.3,390.3 298.8,390.2 303.3,390.1 307.8,390.1 312.4,390.1 316.9,390.0 321.4,390.0 325.9,390.0 330.5,390.0 335.0,390.0 339.5,390.0 344.0,390.0 348.6,390.0 353.1,390.0 357.6,390.0 362.1,390.0 366.7,390.0 371.2,390.0 375.7,390.0 380.2,390.0 384.7,390.0 389.3,390.0 393.8,390.0 398.3,390.0 402.8,390.0 407.4,390.0 411.9,390.0 416.4,390.0 420.9,390.0 425.5,390.0" class="ho"/>
<polyline points="36.4,513.4 40.9,513.4 45.4,513.4 50.0,513.4 54.5,513.4 59.0,513.3 63.5,513.2 68.1,513.0 72.6,512.7 77.1,512.2 81.6,511.5 86.2,510.6 90.7,509.2 95.2,507.5 99.7,505.4 104.3,502.9 108.8,499.9 113.3,496.5 117.8,492.8 122.4,488.7 126.9,484.4 131.4,479.9 135.9,475.2 140.5,470.5 145.0,465.8 149.5,461.2 154.0,456.7 158.5,452.3 163.1,448.0 167.6,444.0 172.1,440.0 176.6,436.2 181.2,432.6 185.7,429.0 190.2,425.6 194.7,422.3 199.3,419.0 203.8,415.9 208.3,413.0 212.8,410.2 217.4,407.6 221.9,405.1 226.4,402.9 230.9,400.9 235.5,399.1 240.0,397.5 244.5,396.1 249.0,394.9 253.6,393.9 258.1,393.1 262.6,392.4 267.1,391.9 271.6,391.4 276.2,391.1 280.7,390.8 285.2,390.6 289.7,390.4 294.3,390.3 298.8,390.2 303.3,390.1 307.8,390.1 312.4,390.1 316.9,390.0 321.4,390.0 325.9,390.0 330.5,390.0 335.0,390.0 339.5,390.0 344.0,390.0 348.6,390.0 353.1,390.0 357.6,390.0 362.1,390.0 366.7,390.0 371.2,390.0 375.7,390.0 380.2,390.0 384.7,390.0 389.3,390.0 393.8,390.0 398.3,390.0 402.8,390.0 407.4,390.0 411.9,390.0 416.4,390.0 420.9,390.0 425.5,390.0" class="ln" stroke="#26172b"/>
<polyline points="36.4,513.4 40.9,513.4 45.4,513.4 50.0,513.4 54.5,513.4 59.0,513.3 63.5,513.3 68.1,513.1 72.6,512.9 77.1,512.6 81.6,512.1 86.2,511.3 90.7,510.4 95.2,509.1 99.7,507.5 104.3,505.5 108.8,503.2 113.3,500.6 117.8,497.6 122.4,494.3 126.9,490.9 131.4,487.2 135.9,483.4 140.5,479.5 145.0,475.6 149.5,471.7 154.0,467.8 158.5,464.0 163.1,460.4 167.6,456.8 172.1,453.4 176.6,450.0 181.2,446.8 185.7,443.7 190.2,440.7 194.7,437.8 199.3,434.9 203.8,432.2 208.3,429.5 212.8,426.9 217.4,424.4 221.9,422.0 226.4,419.7 230.9,417.6 235.5,415.5 240.0,413.6 244.5,411.8 249.0,410.1 253.6,408.6 258.1,407.3 262.6,406.0 267.1,405.0 271.6,404.0 276.2,403.1 280.7,402.4 285.2,401.8 289.7,401.2 294.3,400.8 298.8,400.4 303.3,400.1 307.8,399.8 312.4,399.6 316.9,399.4 321.4,399.2 325.9,399.1 330.5,399.0 335.0,398.9 339.5,398.9 344.0,398.8 348.6,398.8 353.1,398.8 357.6,398.7 362.1,398.7 366.7,398.7 371.2,398.7 375.7,398.7 380.2,398.7 384.7,398.7 389.3,398.7 393.8,398.7 398.3,398.7 402.8,398.7 407.4,398.7 411.9,398.7 416.4,398.7 420.9,398.7 425.5,398.7" class="ho"/>
<polyline points="36.4,513.4 40.9,513.4 45.4,513.4 50.0,513.4 54.5,513.4 59.0,513.3 63.5,513.3 68.1,513.1 72.6,512.9 77.1,512.6 81.6,512.1 86.2,511.3 90.7,510.4 95.2,509.1 99.7,507.5 104.3,505.5 108.8,503.2 113.3,500.6 117.8,497.6 122.4,494.3 126.9,490.9 131.4,487.2 135.9,483.4 140.5,479.5 145.0,475.6 149.5,471.7 154.0,467.8 158.5,464.0 163.1,460.4 167.6,456.8 172.1,453.4 176.6,450.0 181.2,446.8 185.7,443.7 190.2,440.7 194.7,437.8 199.3,434.9 203.8,432.2 208.3,429.5 212.8,426.9 217.4,424.4 221.9,422.0 226.4,419.7 230.9,417.6 235.5,415.5 240.0,413.6 244.5,411.8 249.0,410.1 253.6,408.6 258.1,407.3 262.6,406.0 267.1,405.0 271.6,404.0 276.2,403.1 280.7,402.4 285.2,401.8 289.7,401.2 294.3,400.8 298.8,400.4 303.3,400.1 307.8,399.8 312.4,399.6 316.9,399.4 321.4,399.2 325.9,399.1 330.5,399.0 335.0,398.9 339.5,398.9 344.0,398.8 348.6,398.8 353.1,398.8 357.6,398.7 362.1,398.7 366.7,398.7 371.2,398.7 375.7,398.7 380.2,398.7 384.7,398.7 389.3,398.7 393.8,398.7 398.3,398.7 402.8,398.7 407.4,398.7 411.9,398.7 416.4,398.7 420.9,398.7 425.5,398.7" class="ln" stroke="#190e18"/>
<text x="230.9" y="549.1" class="al" text-anchor="middle" textLength="71" lengthAdjust="spacingAndGlyphs">Age of women</text>
<text x="442.4" y="372.8" class="pt" textLength="40" lengthAdjust="spacingAndGlyphs">Japan</text>
<line x1="442.4" x2="831.5" y1="475.0" y2="475.0" class="gl"/>
<line x1="442.4" x2="831.5" y1="436.7" y2="436.7" class="gl"/>
<line x1="442.4" x2="831.5" y1="398.3" y2="398.3" class="gl"/>
<line x1="442.4" x2="831.5" y1="513.4" y2="513.4" class="ax"/>
<line x1="442.4" x2="442.4" y1="513.4" y2="518.4" class="ax"/>
<text x="443.0" y="529.4" class="tk">12</text>
<line x1="514.8" x2="514.8" y1="513.4" y2="518.4" class="ax"/>
<text x="514.8" y="529.4" class="tk" text-anchor="middle">20</text>
<line x1="605.3" x2="605.3" y1="513.4" y2="518.4" class="ax"/>
<text x="605.3" y="529.4" class="tk" text-anchor="middle">30</text>
<line x1="695.7" x2="695.7" y1="513.4" y2="518.4" class="ax"/>
<text x="695.7" y="529.4" class="tk" text-anchor="middle">40</text>
<line x1="786.2" x2="786.2" y1="513.4" y2="518.4" class="ax"/>
<text x="786.2" y="529.4" class="tk" text-anchor="middle">50</text>
<line x1="831.5" x2="831.5" y1="513.4" y2="518.4" class="ax"/>
<text x="831.3" y="529.4" class="tk" text-anchor="end">55</text>
<polyline points="442.4,513.4 446.9,513.4 451.4,513.4" class="ho"/>
<polyline points="442.4,513.4 446.9,513.4 451.4,513.4" class="ln" stroke="#c4eacf"/>
<polyline points="442.4,513.4 446.9,513.4 451.4,513.4 456.0,513.4 460.5,513.4 465.0,513.4 469.5,513.4 474.1,513.4 478.6,513.4 483.1,513.4 487.6,513.4 492.2,513.3 496.7,513.3" class="ho"/>
<polyline points="442.4,513.4 446.9,513.4 451.4,513.4 456.0,513.4 460.5,513.4 465.0,513.4 469.5,513.4 474.1,513.4 478.6,513.4 483.1,513.4 487.6,513.4 492.2,513.3 496.7,513.3" class="ln" stroke="#a6e1bc"/>
<polyline points="442.4,513.4 446.9,513.4 451.4,513.4 456.0,513.4 460.5,513.4 465.0,513.4 469.5,513.4 474.1,513.4 478.6,513.4 483.1,513.4 487.6,513.4 492.2,513.3 496.7,513.3 501.2,513.2 505.7,513.1 510.3,513.0 514.8,512.8 519.3,512.6 523.8,512.3 528.4,511.9 532.9,511.3 537.4,510.7 541.9,509.9" class="ho"/>
<polyline points="442.4,513.4 446.9,513.4 451.4,513.4 456.0,513.4 460.5,513.4 465.0,513.4 469.5,513.4 474.1,513.4 478.6,513.4 483.1,513.4 487.6,513.4 492.2,513.3 496.7,513.3 501.2,513.2 505.7,513.1 510.3,513.0 514.8,512.8 519.3,512.6 523.8,512.3 528.4,511.9 532.9,511.3 537.4,510.7 541.9,509.9" class="ln" stroke="#7fd7af"/>
<polyline points="442.4,513.4 446.9,513.4 451.4,513.4 456.0,513.4 460.5,513.4 465.0,513.4 469.5,513.4 474.1,513.4 478.6,513.4 483.1,513.4 487.6,513.3 492.2,513.3 496.7,513.2 501.2,513.1 505.7,513.0 510.3,512.8 514.8,512.5 519.3,512.2 523.8,511.9 528.4,511.4 532.9,510.9 537.4,510.3 541.9,509.7 546.5,508.9 551.0,508.1 555.5,507.2 560.0,506.2 564.5,505.2 569.1,504.1 573.6,503.1 578.1,502.1 582.6,501.1 587.2,500.2" class="ho"/>
<polyline points="442.4,513.4 446.9,513.4 451.4,513.4 456.0,513.4 460.5,513.4 465.0,513.4 469.5,513.4 474.1,513.4 478.6,513.4 483.1,513.4 487.6,513.3 492.2,513.3 496.7,513.2 501.2,513.1 505.7,513.0 510.3,512.8 514.8,512.5 519.3,512.2 523.8,511.9 528.4,511.4 532.9,510.9 537.4,510.3 541.9,509.7 546.5,508.9 551.0,508.1 555.5,507.2 560.0,506.2 564.5,505.2 569.1,504.1 573.6,503.1 578.1,502.1 582.6,501.1 587.2,500.2" class="ln" stroke="#5bcdad"/>
<polyline points="442.4,513.4 446.9,513.4 451.4,513.4 456.0,513.4 460.5,513.4 465.0,513.4 469.5,513.4 474.1,513.4 478.6,513.4 483.1,513.4 487.6,513.4 492.2,513.3 496.7,513.2 501.2,513.1 505.7,512.9 510.3,512.7 514.8,512.3 519.3,511.9 523.8,511.4 528.4,510.8 532.9,510.1 537.4,509.4 541.9,508.6 546.5,507.8 551.0,507.0 555.5,506.1 560.0,505.2 564.5,504.2 569.1,503.2 573.6,502.1 578.1,500.9 582.6,499.5 587.2,498.0 591.7,496.3 596.2,494.5 600.7,492.6 605.3,490.7 609.8,488.6 614.3,486.6 618.8,484.7 623.4,482.8 627.9,481.0 632.4,479.4" class="ho"/>
<polyline points="442.4,513.4 446.9,513.4 451.4,513.4 456.0,513.4 460.5,513.4 465.0,513.4 469.5,513.4 474.1,513.4 478.6,513.4 483.1,513.4 487.6,513.4 492.2,513.3 496.7,513.2 501.2,513.1 505.7,512.9 510.3,512.7 514.8,512.3 519.3,511.9 523.8,511.4 528.4,510.8 532.9,510.1 537.4,509.4 541.9,508.6 546.5,507.8 551.0,507.0 555.5,506.1 560.0,505.2 564.5,504.2 569.1,503.2 573.6,502.1 578.1,500.9 582.6,499.5 587.2,498.0 591.7,496.3 596.2,494.5 600.7,492.6 605.3,490.7 609.8,488.6 614.3,486.6 618.8,484.7 623.4,482.8 627.9,481.0 632.4,479.4" class="ln" stroke="#46bead"/>
<polyline points="442.4,513.4 446.9,513.4 451.4,513.4 456.0,513.4 460.5,513.4 465.0,513.4 469.5,513.4 474.1,513.4 478.6,513.4 483.1,513.4 487.6,513.3 492.2,513.3 496.7,513.2 501.2,513.0 505.7,512.8 510.3,512.5 514.8,512.1 519.3,511.7 523.8,511.1 528.4,510.5 532.9,509.8 537.4,509.0 541.9,508.2 546.5,507.3 551.0,506.4 555.5,505.5 560.0,504.5 564.5,503.5 569.1,502.4 573.6,501.3 578.1,500.0 582.6,498.7 587.2,497.2 591.7,495.6 596.2,493.9 600.7,492.1 605.3,490.1 609.8,488.1 614.3,485.9 618.8,483.8 623.4,481.6 627.9,479.4 632.4,477.3 636.9,475.3 641.5,473.3 646.0,471.5 650.5,469.8 655.0,468.3 659.6,466.9 664.1,465.6 668.6,464.5 673.1,463.5 677.6,462.6" class="ho"/>
<polyline points="442.4,513.4 446.9,513.4 451.4,513.4 456.0,513.4 460.5,513.4 465.0,513.4 469.5,513.4 474.1,513.4 478.6,513.4 483.1,513.4 487.6,513.3 492.2,513.3 496.7,513.2 501.2,513.0 505.7,512.8 510.3,512.5 514.8,512.1 519.3,511.7 523.8,511.1 528.4,510.5 532.9,509.8 537.4,509.0 541.9,508.2 546.5,507.3 551.0,506.4 555.5,505.5 560.0,504.5 564.5,503.5 569.1,502.4 573.6,501.3 578.1,500.0 582.6,498.7 587.2,497.2 591.7,495.6 596.2,493.9 600.7,492.1 605.3,490.1 609.8,488.1 614.3,485.9 618.8,483.8 623.4,481.6 627.9,479.4 632.4,477.3 636.9,475.3 641.5,473.3 646.0,471.5 650.5,469.8 655.0,468.3 659.6,466.9 664.1,465.6 668.6,464.5 673.1,463.5 677.6,462.6" class="ln" stroke="#3bafad"/>
<polyline points="442.4,513.4 446.9,513.4 451.4,513.4 456.0,513.4 460.5,513.4 465.0,513.4 469.5,513.4 474.1,513.4 478.6,513.4 483.1,513.4 487.6,513.3 492.2,513.3 496.7,513.2 501.2,513.0 505.7,512.8 510.3,512.5 514.8,512.2 519.3,511.7 523.8,511.1 528.4,510.5 532.9,509.8 537.4,509.0 541.9,508.1 546.5,507.2 551.0,506.2 555.5,505.2 560.0,504.1 564.5,503.0 569.1,501.8 573.6,500.5 578.1,499.2 582.6,497.8 587.2,496.2 591.7,494.6 596.2,492.9 600.7,491.1 605.3,489.3 609.8,487.4 614.3,485.4 618.8,483.4 623.4,481.4 627.9,479.4 632.4,477.5 636.9,475.6 641.5,473.7 646.0,472.0 650.5,470.4 655.0,468.8 659.6,467.4 664.1,466.1 668.6,465.0 673.1,463.9 677.6,462.9 682.2,462.1 686.7,461.3 691.2,460.7 695.7,460.1 700.3,459.6 704.8,459.2 709.3,458.8 713.8,458.5 718.4,458.3 722.9,458.1" class="ho"/>
<polyline points="442.4,513.4 446.9,513.4 451.4,513.4 456.0,513.4 460.5,513.4 465.0,513.4 469.5,513.4 474.1,513.4 478.6,513.4 483.1,513.4 487.6,513.3 492.2,513.3 496.7,513.2 501.2,513.0 505.7,512.8 510.3,512.5 514.8,512.2 519.3,511.7 523.8,511.1 528.4,510.5 532.9,509.8 537.4,509.0 541.9,508.1 546.5,507.2 551.0,506.2 555.5,505.2 560.0,504.1 564.5,503.0 569.1,501.8 573.6,500.5 578.1,499.2 582.6,497.8 587.2,496.2 591.7,494.6 596.2,492.9 600.7,491.1 605.3,489.3 609.8,487.4 614.3,485.4 618.8,483.4 623.4,481.4 627.9,479.4 632.4,477.5 636.9,475.6 641.5,473.7 646.0,472.0 650.5,470.4 655.0,468.8 659.6,467.4 664.1,466.1 668.6,465.0 673.1,463.9 677.6,462.9 682.2,462.1 686.7,461.3 691.2,460.7 695.7,460.1 700.3,459.6 704.8,459.2 709.3,458.8 713.8,458.5 718.4,458.3 722.9,458.1" class="ln" stroke="#35a0ab"/>
<polyline points="442.4,513.4 446.9,513.4 451.4,513.4 456.0,513.4 460.5,513.4 465.0,513.4 469.5,513.4 474.1,513.4 478.6,513.4 483.1,513.4 487.6,513.3 492.2,513.3 496.7,513.2 501.2,513.1 505.7,512.8 510.3,512.5 514.8,512.1 519.3,511.6 523.8,511.0 528.4,510.3 532.9,509.5 537.4,508.6 541.9,507.7 546.5,506.7 551.0,505.6 555.5,504.5 560.0,503.3 564.5,502.1 569.1,500.8 573.6,499.4 578.1,498.0 582.6,496.5 587.2,494.8 591.7,493.1 596.2,491.3 600.7,489.4 605.3,487.5 609.8,485.5 614.3,483.5 618.8,481.5 623.4,479.5 627.9,477.5 632.4,475.6 636.9,473.8 641.5,472.1 646.0,470.5 650.5,469.0 655.0,467.6 659.6,466.3 664.1,465.2 668.6,464.2 673.1,463.3 677.6,462.5 682.2,461.8 686.7,461.2 691.2,460.7 695.7,460.2 700.3,459.8 704.8,459.5 709.3,459.3 713.8,459.0 718.4,458.9 722.9,458.7 727.4,458.6 731.9,458.5 736.5,458.4 741.0,458.3 745.5,458.3 750.0,458.2 754.6,458.2 759.1,458.2 763.6,458.2 768.1,458.1" class="ho"/>
<polyline points="442.4,513.4 446.9,513.4 451.4,513.4 456.0,513.4 460.5,513.4 465.0,513.4 469.5,513.4 474.1,513.4 478.6,513.4 483.1,513.4 487.6,513.3 492.2,513.3 496.7,513.2 501.2,513.1 505.7,512.8 510.3,512.5 514.8,512.1 519.3,511.6 523.8,511.0 528.4,510.3 532.9,509.5 537.4,508.6 541.9,507.7 546.5,506.7 551.0,505.6 555.5,504.5 560.0,503.3 564.5,502.1 569.1,500.8 573.6,499.4 578.1,498.0 582.6,496.5 587.2,494.8 591.7,493.1 596.2,491.3 600.7,489.4 605.3,487.5 609.8,485.5 614.3,483.5 618.8,481.5 623.4,479.5 627.9,477.5 632.4,475.6 636.9,473.8 641.5,472.1 646.0,470.5 650.5,469.0 655.0,467.6 659.6,466.3 664.1,465.2 668.6,464.2 673.1,463.3 677.6,462.5 682.2,461.8 686.7,461.2 691.2,460.7 695.7,460.2 700.3,459.8 704.8,459.5 709.3,459.3 713.8,459.0 718.4,458.9 722.9,458.7 727.4,458.6 731.9,458.5 736.5,458.4 741.0,458.3 745.5,458.3 750.0,458.2 754.6,458.2 759.1,458.2 763.6,458.2 768.1,458.1" class="ln" stroke="#3491a8"/>
<polyline points="442.4,513.4 446.9,513.4 451.4,513.4 456.0,513.4 460.5,513.4 465.0,513.4 469.5,513.4 474.1,513.4 478.6,513.4 483.1,513.4 487.6,513.4 492.2,513.3 496.7,513.2 501.2,513.1 505.7,512.9 510.3,512.6 514.8,512.2 519.3,511.7 523.8,511.1 528.4,510.3 532.9,509.4 537.4,508.4 541.9,507.2 546.5,506.0 551.0,504.6 555.5,503.1 560.0,501.6 564.5,500.0 569.1,498.3 573.6,496.5 578.1,494.7 582.6,492.8 587.2,490.9 591.7,489.0 596.2,487.0 600.7,485.0 605.3,483.0 609.8,481.0 614.3,479.1 618.8,477.2 623.4,475.4 627.9,473.7 632.4,472.0 636.9,470.5 641.5,469.0 646.0,467.7 650.5,466.4 655.0,465.3 659.6,464.2 664.1,463.3 668.6,462.5 673.1,461.7 677.6,461.0 682.2,460.4 686.7,459.9 691.2,459.4 695.7,459.0 700.3,458.7 704.8,458.4 709.3,458.1 713.8,457.9 718.4,457.7 722.9,457.6 727.4,457.4 731.9,457.3 736.5,457.2 741.0,457.2 745.5,457.1 750.0,457.0 754.6,457.0 759.1,457.0 763.6,456.9 768.1,456.9 772.7,456.9 777.2,456.9 781.7,456.9 786.2,456.8 790.7,456.8 795.3,456.8 799.8,456.8 804.3,456.8 808.8,456.8 813.4,456.8" class="ho"/>
<polyline points="442.4,513.4 446.9,513.4 451.4,513.4 456.0,513.4 460.5,513.4 465.0,513.4 469.5,513.4 474.1,513.4 478.6,513.4 483.1,513.4 487.6,513.4 492.2,513.3 496.7,513.2 501.2,513.1 505.7,512.9 510.3,512.6 514.8,512.2 519.3,511.7 523.8,511.1 528.4,510.3 532.9,509.4 537.4,508.4 541.9,507.2 546.5,506.0 551.0,504.6 555.5,503.1 560.0,501.6 564.5,500.0 569.1,498.3 573.6,496.5 578.1,494.7 582.6,492.8 587.2,490.9 591.7,489.0 596.2,487.0 600.7,485.0 605.3,483.0 609.8,481.0 614.3,479.1 618.8,477.2 623.4,475.4 627.9,473.7 632.4,472.0 636.9,470.5 641.5,469.0 646.0,467.7 650.5,466.4 655.0,465.3 659.6,464.2 664.1,463.3 668.6,462.5 673.1,461.7 677.6,461.0 682.2,460.4 686.7,459.9 691.2,459.4 695.7,459.0 700.3,458.7 704.8,458.4 709.3,458.1 713.8,457.9 718.4,457.7 722.9,457.6 727.4,457.4 731.9,457.3 736.5,457.2 741.0,457.2 745.5,457.1 750.0,457.0 754.6,457.0 759.1,457.0 763.6,456.9 768.1,456.9 772.7,456.9 777.2,456.9 781.7,456.9 786.2,456.8 790.7,456.8 795.3,456.8 799.8,456.8 804.3,456.8 808.8,456.8 813.4,456.8" class="ln" stroke="#3482a4"/>
<polyline points="442.4,513.4 446.9,513.4 451.4,513.4 456.0,513.4 460.5,513.4 465.0,513.4 469.5,513.4 474.1,513.4 478.6,513.4 483.1,513.4 487.6,513.4 492.2,513.4 496.7,513.3 501.2,513.2 505.7,513.0 510.3,512.7 514.8,512.3 519.3,511.7 523.8,511.0 528.4,510.1 532.9,509.1 537.4,507.9 541.9,506.6 546.5,505.2 551.0,503.6 555.5,501.9 560.0,500.1 564.5,498.2 569.1,496.2 573.6,494.1 578.1,491.8 582.6,489.4 587.2,487.0 591.7,484.4 596.2,481.8 600.7,479.2 605.3,476.5 609.8,474.0 614.3,471.5 618.8,469.1 623.4,466.9 627.9,464.9 632.4,463.1 636.9,461.4 641.5,459.9 646.0,458.6 650.5,457.5 655.0,456.5 659.6,455.7 664.1,454.9 668.6,454.3 673.1,453.8 677.6,453.4 682.2,453.0 686.7,452.7 691.2,452.4 695.7,452.2 700.3,452.0 704.8,451.8 709.3,451.7 713.8,451.5 718.4,451.4 722.9,451.3 727.4,451.3 731.9,451.2 736.5,451.1 741.0,451.1 745.5,451.0 750.0,451.0 754.6,451.0 759.1,450.9 763.6,450.9 768.1,450.9 772.7,450.9 777.2,450.9 781.7,450.8 786.2,450.8 790.7,450.8 795.3,450.8 799.8,450.8 804.3,450.8 808.8,450.8 813.4,450.8 817.9,450.8 822.4,450.8 826.9,450.8 831.5,450.8" class="ho"/>
<polyline points="442.4,513.4 446.9,513.4 451.4,513.4 456.0,513.4 460.5,513.4 465.0,513.4 469.5,513.4 474.1,513.4 478.6,513.4 483.1,513.4 487.6,513.4 492.2,513.4 496.7,513.3 501.2,513.2 505.7,513.0 510.3,512.7 514.8,512.3 519.3,511.7 523.8,511.0 528.4,510.1 532.9,509.1 537.4,507.9 541.9,506.6 546.5,505.2 551.0,503.6 555.5,501.9 560.0,500.1 564.5,498.2 569.1,496.2 573.6,494.1 578.1,491.8 582.6,489.4 587.2,487.0 591.7,484.4 596.2,481.8 600.7,479.2 605.3,476.5 609.8,474.0 614.3,471.5 618.8,469.1 623.4,466.9 627.9,464.9 632.4,463.1 636.9,461.4 641.5,459.9 646.0,458.6 650.5,457.5 655.0,456.5 659.6,455.7 664.1,454.9 668.6,454.3 673.1,453.8 677.6,453.4 682.2,453.0 686.7,452.7 691.2,452.4 695.7,452.2 700.3,452.0 704.8,451.8 709.3,451.7 713.8,451.5 718.4,451.4 722.9,451.3 727.4,451.3 731.9,451.2 736.5,451.1 741.0,451.1 745.5,451.0 750.0,451.0 754.6,451.0 759.1,450.9 763.6,450.9 768.1,450.9 772.7,450.9 777.2,450.9 781.7,450.8 786.2,450.8 790.7,450.8 795.3,450.8 799.8,450.8 804.3,450.8 808.8,450.8 813.4,450.8 817.9,450.8 822.4,450.8 826.9,450.8 831.5,450.8" class="ln" stroke="#3573a1"/>
<polyline points="442.4,513.4 446.9,513.4 451.4,513.4 456.0,513.4 460.5,513.4 465.0,513.4 469.5,513.4 474.1,513.4 478.6,513.4 483.1,513.4 487.6,513.4 492.2,513.4 496.7,513.3 501.2,513.3 505.7,513.1 510.3,512.8 514.8,512.4 519.3,511.8 523.8,511.1 528.4,510.1 532.9,509.0 537.4,507.6 541.9,506.1 546.5,504.3 551.0,502.3 555.5,500.1 560.0,497.7 564.5,495.1 569.1,492.3 573.6,489.3 578.1,486.3 582.6,483.1 587.2,479.9 591.7,476.7 596.2,473.5 600.7,470.5 605.3,467.5 609.8,464.8 614.3,462.3 618.8,459.9 623.4,457.8 627.9,455.9 632.4,454.1 636.9,452.6 641.5,451.3 646.0,450.1 650.5,449.1 655.0,448.2 659.6,447.4 664.1,446.8 668.6,446.2 673.1,445.7 677.6,445.3 682.2,444.9 686.7,444.6 691.2,444.3 695.7,444.1 700.3,443.9 704.8,443.7 709.3,443.6 713.8,443.4 718.4,443.3 722.9,443.2 727.4,443.1 731.9,443.1 736.5,443.0 741.0,443.0 745.5,442.9 750.0,442.9 754.6,442.8 759.1,442.8 763.6,442.8 768.1,442.8 772.7,442.7 777.2,442.7 781.7,442.7 786.2,442.7 790.7,442.7 795.3,442.7 799.8,442.7 804.3,442.7 808.8,442.7 813.4,442.7 817.9,442.7 822.4,442.7 826.9,442.7 831.5,442.7" class="ho"/>
<polyline points="442.4,513.4 446.9,513.4 451.4,513.4 456.0,513.4 460.5,513.4 465.0,513.4 469.5,513.4 474.1,513.4 478.6,513.4 483.1,513.4 487.6,513.4 492.2,513.4 496.7,513.3 501.2,513.3 505.7,513.1 510.3,512.8 514.8,512.4 519.3,511.8 523.8,511.1 528.4,510.1 532.9,509.0 537.4,507.6 541.9,506.1 546.5,504.3 551.0,502.3 555.5,500.1 560.0,497.7 564.5,495.1 569.1,492.3 573.6,489.3 578.1,486.3 582.6,483.1 587.2,479.9 591.7,476.7 596.2,473.5 600.7,470.5 605.3,467.5 609.8,464.8 614.3,462.3 618.8,459.9 623.4,457.8 627.9,455.9 632.4,454.1 636.9,452.6 641.5,451.3 646.0,450.1 650.5,449.1 655.0,448.2 659.6,447.4 664.1,446.8 668.6,446.2 673.1,445.7 677.6,445.3 682.2,444.9 686.7,444.6 691.2,444.3 695.7,444.1 700.3,443.9 704.8,443.7 709.3,443.6 713.8,443.4 718.4,443.3 722.9,443.2 727.4,443.1 731.9,443.1 736.5,443.0 741.0,443.0 745.5,442.9 750.0,442.9 754.6,442.8 759.1,442.8 763.6,442.8 768.1,442.8 772.7,442.7 777.2,442.7 781.7,442.7 786.2,442.7 790.7,442.7 795.3,442.7 799.8,442.7 804.3,442.7 808.8,442.7 813.4,442.7 817.9,442.7 822.4,442.7 826.9,442.7 831.5,442.7" class="ln" stroke="#38639d"/>
<polyline points="442.4,513.4 446.9,513.4 451.4,513.4 456.0,513.4 460.5,513.4 465.0,513.4 469.5,513.4 474.1,513.4 478.6,513.4 483.1,513.4 487.6,513.4 492.2,513.4 496.7,513.4 501.2,513.3 505.7,513.1 510.3,512.9 514.8,512.5 519.3,511.8 523.8,511.0 528.4,509.9 532.9,508.5 537.4,506.8 541.9,504.9 546.5,502.7 551.0,500.2 555.5,497.6 560.0,494.7 564.5,491.5 569.1,488.2 573.6,484.7 578.1,481.1 582.6,477.4 587.2,473.7 591.7,470.0 596.2,466.4 600.7,462.9 605.3,459.6 609.8,456.6 614.3,453.8 618.8,451.2 623.4,449.0 627.9,447.0 632.4,445.3 636.9,443.9 641.5,442.7 646.0,441.7 650.5,440.8 655.0,440.1 659.6,439.6 664.1,439.1 668.6,438.8 673.1,438.5 677.6,438.3 682.2,438.1 686.7,438.0 691.2,437.9 695.7,437.8 700.3,437.7 704.8,437.7 709.3,437.7 713.8,437.6 718.4,437.6 722.9,437.6 727.4,437.6 731.9,437.6 736.5,437.6 741.0,437.6 745.5,437.6 750.0,437.5 754.6,437.5 759.1,437.5 763.6,437.5 768.1,437.5 772.7,437.5 777.2,437.5 781.7,437.5 786.2,437.5 790.7,437.5 795.3,437.5 799.8,437.5 804.3,437.5 808.8,437.5 813.4,437.5 817.9,437.5 822.4,437.5 826.9,437.5 831.5,437.5" class="ho"/>
<polyline points="442.4,513.4 446.9,513.4 451.4,513.4 456.0,513.4 460.5,513.4 465.0,513.4 469.5,513.4 474.1,513.4 478.6,513.4 483.1,513.4 487.6,513.4 492.2,513.4 496.7,513.4 501.2,513.3 505.7,513.1 510.3,512.9 514.8,512.5 519.3,511.8 523.8,511.0 528.4,509.9 532.9,508.5 537.4,506.8 541.9,504.9 546.5,502.7 551.0,500.2 555.5,497.6 560.0,494.7 564.5,491.5 569.1,488.2 573.6,484.7 578.1,481.1 582.6,477.4 587.2,473.7 591.7,470.0 596.2,466.4 600.7,462.9 605.3,459.6 609.8,456.6 614.3,453.8 618.8,451.2 623.4,449.0 627.9,447.0 632.4,445.3 636.9,443.9 641.5,442.7 646.0,441.7 650.5,440.8 655.0,440.1 659.6,439.6 664.1,439.1 668.6,438.8 673.1,438.5 677.6,438.3 682.2,438.1 686.7,438.0 691.2,437.9 695.7,437.8 700.3,437.7 704.8,437.7 709.3,437.7 713.8,437.6 718.4,437.6 722.9,437.6 727.4,437.6 731.9,437.6 736.5,437.6 741.0,437.6 745.5,437.6 750.0,437.5 754.6,437.5 759.1,437.5 763.6,437.5 768.1,437.5 772.7,437.5 777.2,437.5 781.7,437.5 786.2,437.5 790.7,437.5 795.3,437.5 799.8,437.5 804.3,437.5 808.8,437.5 813.4,437.5 817.9,437.5 822.4,437.5 826.9,437.5 831.5,437.5" class="ln" stroke="#3c5397"/>
<polyline points="442.4,513.4 446.9,513.4 451.4,513.4 456.0,513.4 460.5,513.4 465.0,513.4 469.5,513.4 474.1,513.4 478.6,513.4 483.1,513.4 487.6,513.4 492.2,513.4 496.7,513.4 501.2,513.3 505.7,513.2 510.3,513.0 514.8,512.7 519.3,512.1 523.8,511.3 528.4,510.1 532.9,508.5 537.4,506.5 541.9,504.0 546.5,501.2 551.0,498.1 555.5,494.7 560.0,491.0 564.5,487.2 569.1,483.3 573.6,479.4 578.1,475.5 582.6,471.7 587.2,468.1 591.7,464.6 596.2,461.3 600.7,458.3 605.3,455.5 609.8,452.9 614.3,450.6 618.8,448.5 623.4,446.7 627.9,445.1 632.4,443.7 636.9,442.4 641.5,441.4 646.0,440.5 650.5,439.8 655.0,439.1 659.6,438.6 664.1,438.2 668.6,437.8 673.1,437.5 677.6,437.3 682.2,437.1 686.7,436.9 691.2,436.8 695.7,436.7 700.3,436.6 704.8,436.6 709.3,436.5 713.8,436.5 718.4,436.5 722.9,436.4 727.4,436.4 731.9,436.4 736.5,436.4 741.0,436.4 745.5,436.4 750.0,436.4 754.6,436.4 759.1,436.4 763.6,436.4 768.1,436.4 772.7,436.4 777.2,436.4 781.7,436.4 786.2,436.4 790.7,436.4 795.3,436.4 799.8,436.4 804.3,436.4 808.8,436.4 813.4,436.4 817.9,436.4 822.4,436.4 826.9,436.4 831.5,436.4" class="ho"/>
<polyline points="442.4,513.4 446.9,513.4 451.4,513.4 456.0,513.4 460.5,513.4 465.0,513.4 469.5,513.4 474.1,513.4 478.6,513.4 483.1,513.4 487.6,513.4 492.2,513.4 496.7,513.4 501.2,513.3 505.7,513.2 510.3,513.0 514.8,512.7 519.3,512.1 523.8,511.3 528.4,510.1 532.9,508.5 537.4,506.5 541.9,504.0 546.5,501.2 551.0,498.1 555.5,494.7 560.0,491.0 564.5,487.2 569.1,483.3 573.6,479.4 578.1,475.5 582.6,471.7 587.2,468.1 591.7,464.6 596.2,461.3 600.7,458.3 605.3,455.5 609.8,452.9 614.3,450.6 618.8,448.5 623.4,446.7 627.9,445.1 632.4,443.7 636.9,442.4 641.5,441.4 646.0,440.5 650.5,439.8 655.0,439.1 659.6,438.6 664.1,438.2 668.6,437.8 673.1,437.5 677.6,437.3 682.2,437.1 686.7,436.9 691.2,436.8 695.7,436.7 700.3,436.6 704.8,436.6 709.3,436.5 713.8,436.5 718.4,436.5 722.9,436.4 727.4,436.4 731.9,436.4 736.5,436.4 741.0,436.4 745.5,436.4 750.0,436.4 754.6,436.4 759.1,436.4 763.6,436.4 768.1,436.4 772.7,436.4 777.2,436.4 781.7,436.4 786.2,436.4 790.7,436.4 795.3,436.4 799.8,436.4 804.3,436.4 808.8,436.4 813.4,436.4 817.9,436.4 822.4,436.4 826.9,436.4 831.5,436.4" class="ln" stroke="#414387"/>
<polyline points="442.4,513.4 446.9,513.4 451.4,513.4 456.0,513.4 460.5,513.4 465.0,513.4 469.5,513.4 474.1,513.4 478.6,513.4 483.1,513.4 487.6,513.4 492.2,513.4 496.7,513.4 501.2,513.3 505.7,513.2 510.3,513.0 514.8,512.6 519.3,512.0 523.8,511.0 528.4,509.8 532.9,508.1 537.4,506.0 541.9,503.5 546.5,500.6 551.0,497.3 555.5,493.9 560.0,490.2 564.5,486.4 569.1,482.5 573.6,478.6 578.1,474.7 582.6,471.0 587.2,467.3 591.7,463.7 596.2,460.4 600.7,457.2 605.3,454.2 609.8,451.5 614.3,449.0 618.8,446.7 623.4,444.7 627.9,442.9 632.4,441.3 636.9,440.0 641.5,438.9 646.0,437.9 650.5,437.1 655.0,436.5 659.6,436.0 664.1,435.5 668.6,435.2 673.1,434.9 677.6,434.7 682.2,434.6 686.7,434.5 691.2,434.4 695.7,434.3 700.3,434.2 704.8,434.2 709.3,434.2 713.8,434.2 718.4,434.1 722.9,434.1 727.4,434.1 731.9,434.1 736.5,434.1 741.0,434.1 745.5,434.1 750.0,434.1 754.6,434.1 759.1,434.1 763.6,434.1 768.1,434.1 772.7,434.1 777.2,434.1 781.7,434.1 786.2,434.1 790.7,434.1 795.3,434.1 799.8,434.1 804.3,434.1 808.8,434.1 813.4,434.1 817.9,434.1 822.4,434.1 826.9,434.1 831.5,434.1" class="ho"/>
<polyline points="442.4,513.4 446.9,513.4 451.4,513.4 456.0,513.4 460.5,513.4 465.0,513.4 469.5,513.4 474.1,513.4 478.6,513.4 483.1,513.4 487.6,513.4 492.2,513.4 496.7,513.4 501.2,513.3 505.7,513.2 510.3,513.0 514.8,512.6 519.3,512.0 523.8,511.0 528.4,509.8 532.9,508.1 537.4,506.0 541.9,503.5 546.5,500.6 551.0,497.3 555.5,493.9 560.0,490.2 564.5,486.4 569.1,482.5 573.6,478.6 578.1,474.7 582.6,471.0 587.2,467.3 591.7,463.7 596.2,460.4 600.7,457.2 605.3,454.2 609.8,451.5 614.3,449.0 618.8,446.7 623.4,444.7 627.9,442.9 632.4,441.3 636.9,440.0 641.5,438.9 646.0,437.9 650.5,437.1 655.0,436.5 659.6,436.0 664.1,435.5 668.6,435.2 673.1,434.9 677.6,434.7 682.2,434.6 686.7,434.5 691.2,434.4 695.7,434.3 700.3,434.2 704.8,434.2 709.3,434.2 713.8,434.2 718.4,434.1 722.9,434.1 727.4,434.1 731.9,434.1 736.5,434.1 741.0,434.1 745.5,434.1 750.0,434.1 754.6,434.1 759.1,434.1 763.6,434.1 768.1,434.1 772.7,434.1 777.2,434.1 781.7,434.1 786.2,434.1 790.7,434.1 795.3,434.1 799.8,434.1 804.3,434.1 808.8,434.1 813.4,434.1 817.9,434.1 822.4,434.1 826.9,434.1 831.5,434.1" class="ln" stroke="#3f3770"/>
<polyline points="442.4,513.4 446.9,513.4 451.4,513.4 456.0,513.4 460.5,513.4 465.0,513.4 469.5,513.4 474.1,513.4 478.6,513.4 483.1,513.4 487.6,513.4 492.2,513.4 496.7,513.4 501.2,513.3 505.7,513.2 510.3,513.0 514.8,512.6 519.3,512.0 523.8,511.1 528.4,509.9 532.9,508.2 537.4,506.1 541.9,503.6 546.5,500.7 551.0,497.5 555.5,494.1 560.0,490.4 564.5,486.6 569.1,482.7 573.6,478.8 578.1,475.0 582.6,471.2 587.2,467.5 591.7,463.9 596.2,460.6 600.7,457.4 605.3,454.4 609.8,451.7 614.3,449.2 618.8,446.9 623.4,445.0 627.9,443.2 632.4,441.7 636.9,440.4 641.5,439.3 646.0,438.5 650.5,437.7 655.0,437.1 659.6,436.6 664.1,436.3 668.6,436.0 673.1,435.7 677.6,435.6 682.2,435.4 686.7,435.3 691.2,435.3 695.7,435.2 700.3,435.2 704.8,435.1 709.3,435.1 713.8,435.1 718.4,435.1 722.9,435.1 727.4,435.1 731.9,435.1 736.5,435.1 741.0,435.1 745.5,435.1 750.0,435.1 754.6,435.1 759.1,435.1 763.6,435.1 768.1,435.1 772.7,435.1 777.2,435.1 781.7,435.1 786.2,435.1 790.7,435.1 795.3,435.1 799.8,435.1 804.3,435.1 808.8,435.1 813.4,435.1 817.9,435.1 822.4,435.1 826.9,435.1 831.5,435.1" class="ho"/>
<polyline points="442.4,513.4 446.9,513.4 451.4,513.4 456.0,513.4 460.5,513.4 465.0,513.4 469.5,513.4 474.1,513.4 478.6,513.4 483.1,513.4 487.6,513.4 492.2,513.4 496.7,513.4 501.2,513.3 505.7,513.2 510.3,513.0 514.8,512.6 519.3,512.0 523.8,511.1 528.4,509.9 532.9,508.2 537.4,506.1 541.9,503.6 546.5,500.7 551.0,497.5 555.5,494.1 560.0,490.4 564.5,486.6 569.1,482.7 573.6,478.8 578.1,475.0 582.6,471.2 587.2,467.5 591.7,463.9 596.2,460.6 600.7,457.4 605.3,454.4 609.8,451.7 614.3,449.2 618.8,446.9 623.4,445.0 627.9,443.2 632.4,441.7 636.9,440.4 641.5,439.3 646.0,438.5 650.5,437.7 655.0,437.1 659.6,436.6 664.1,436.3 668.6,436.0 673.1,435.7 677.6,435.6 682.2,435.4 686.7,435.3 691.2,435.3 695.7,435.2 700.3,435.2 704.8,435.1 709.3,435.1 713.8,435.1 718.4,435.1 722.9,435.1 727.4,435.1 731.9,435.1 736.5,435.1 741.0,435.1 745.5,435.1 750.0,435.1 754.6,435.1 759.1,435.1 763.6,435.1 768.1,435.1 772.7,435.1 777.2,435.1 781.7,435.1 786.2,435.1 790.7,435.1 795.3,435.1 799.8,435.1 804.3,435.1 808.8,435.1 813.4,435.1 817.9,435.1 822.4,435.1 826.9,435.1 831.5,435.1" class="ln" stroke="#3a2c58"/>
<polyline points="442.4,513.4 446.9,513.4 451.4,513.4 456.0,513.4 460.5,513.4 465.0,513.4 469.5,513.4 474.1,513.4 478.6,513.4 483.1,513.4 487.6,513.4 492.2,513.4 496.7,513.4 501.2,513.3 505.7,513.2 510.3,513.0 514.8,512.7 519.3,512.1 523.8,511.2 528.4,510.0 532.9,508.4 537.4,506.3 541.9,503.9 546.5,501.1 551.0,497.9 555.5,494.5 560.0,490.8 564.5,487.0 569.1,483.1 573.6,479.2 578.1,475.3 582.6,471.5 587.2,467.8 591.7,464.3 596.2,460.9 600.7,457.7 605.3,454.8 609.8,452.1 614.3,449.6 618.8,447.4 623.4,445.5 627.9,443.8 632.4,442.3 636.9,441.0 641.5,439.9 646.0,439.0 650.5,438.2 655.0,437.6 659.6,437.1 664.1,436.7 668.6,436.4 673.1,436.1 677.6,435.9 682.2,435.7 686.7,435.6 691.2,435.5 695.7,435.5 700.3,435.4 704.8,435.4 709.3,435.3 713.8,435.3 718.4,435.3 722.9,435.3 727.4,435.3 731.9,435.3 736.5,435.3 741.0,435.3 745.5,435.3 750.0,435.3 754.6,435.3 759.1,435.3 763.6,435.3 768.1,435.3 772.7,435.3 777.2,435.3 781.7,435.3 786.2,435.3 790.7,435.3 795.3,435.3 799.8,435.3 804.3,435.3 808.8,435.3 813.4,435.3 817.9,435.3 822.4,435.3 826.9,435.3 831.5,435.3" class="ho"/>
<polyline points="442.4,513.4 446.9,513.4 451.4,513.4 456.0,513.4 460.5,513.4 465.0,513.4 469.5,513.4 474.1,513.4 478.6,513.4 483.1,513.4 487.6,513.4 492.2,513.4 496.7,513.4 501.2,513.3 505.7,513.2 510.3,513.0 514.8,512.7 519.3,512.1 523.8,511.2 528.4,510.0 532.9,508.4 537.4,506.3 541.9,503.9 546.5,501.1 551.0,497.9 555.5,494.5 560.0,490.8 564.5,487.0 569.1,483.1 573.6,479.2 578.1,475.3 582.6,471.5 587.2,467.8 591.7,464.3 596.2,460.9 600.7,457.7 605.3,454.8 609.8,452.1 614.3,449.6 618.8,447.4 623.4,445.5 627.9,443.8 632.4,442.3 636.9,441.0 641.5,439.9 646.0,439.0 650.5,438.2 655.0,437.6 659.6,437.1 664.1,436.7 668.6,436.4 673.1,436.1 677.6,435.9 682.2,435.7 686.7,435.6 691.2,435.5 695.7,435.5 700.3,435.4 704.8,435.4 709.3,435.3 713.8,435.3 718.4,435.3 722.9,435.3 727.4,435.3 731.9,435.3 736.5,435.3 741.0,435.3 745.5,435.3 750.0,435.3 754.6,435.3 759.1,435.3 763.6,435.3 768.1,435.3 772.7,435.3 777.2,435.3 781.7,435.3 786.2,435.3 790.7,435.3 795.3,435.3 799.8,435.3 804.3,435.3 808.8,435.3 813.4,435.3 817.9,435.3 822.4,435.3 826.9,435.3 831.5,435.3" class="ln" stroke="#312142"/>
<text x="636.9" y="549.1" class="al" text-anchor="middle" textLength="71" lengthAdjust="spacingAndGlyphs">Age of women</text>
<text x="16.5" y="580.5" class="ft" font-weight="bold" textLength="72.4" lengthAdjust="spacingAndGlyphs">Data source:</text>
<text x="92.3" y="580.5" class="ft" textLength="184.5" lengthAdjust="spacingAndGlyphs">Human Fertility Database (2025)</text>
<text x="593.3" y="580.5" class="ft" textLength="237.7" lengthAdjust="spacingAndGlyphs">OurWorldinData.org/fertility-rate | CC BY</text>
</svg>
</body></html>
